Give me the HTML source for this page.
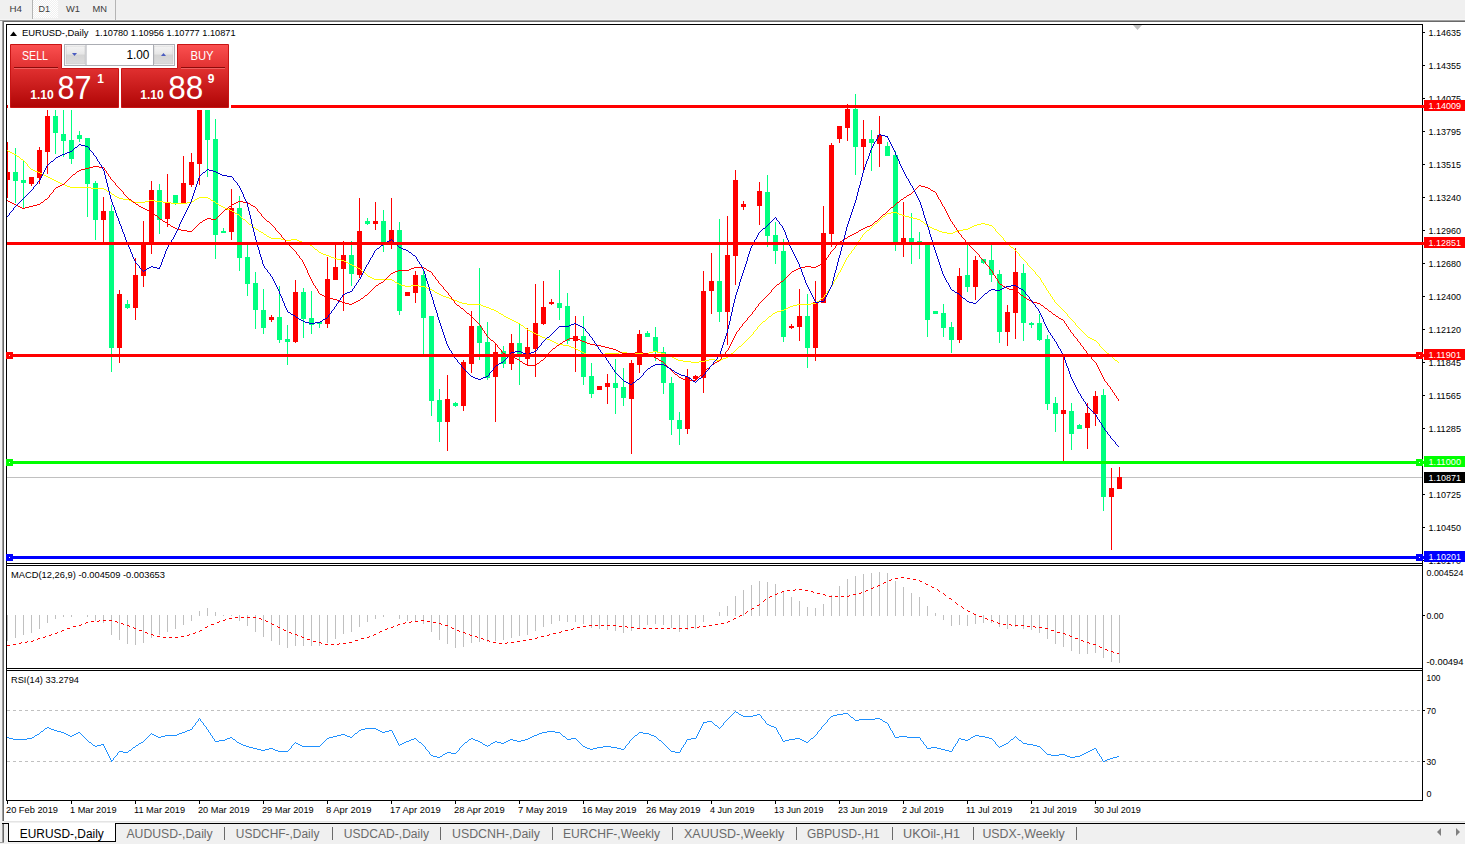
<!DOCTYPE html>
<html><head><meta charset="utf-8"><title>EURUSD-,Daily</title>
<style>html,body{margin:0;padding:0;background:#f0f0f0;}body{width:1465px;height:844px;overflow:hidden;font-family:'Liberation Sans', Arial, sans-serif;}svg{display:block}</style>
</head><body><svg width="1465" height="844" viewBox="0 0 1465 844" font-family="'Liberation Sans', Arial, sans-serif"><rect x="0" y="0" width="1465" height="844" fill="#f0f0f0"/>
<rect x="4" y="22" width="1461" height="801" fill="#ffffff"/>
<rect x="0" y="19" width="1465" height="1" fill="#f5f5f5"/>
<rect x="0" y="20" width="1465" height="1" fill="#a0a0a0"/>
<rect x="2" y="21" width="1463" height="1" fill="#696969"/>
<rect x="0" y="21" width="2" height="800" fill="#f4f4f4"/>
<rect x="2" y="21" width="1" height="800" fill="#a0a0a0"/>
<rect x="3" y="22" width="1" height="799" fill="#696969"/>
<defs><pattern id="chk" width="2" height="2" patternUnits="userSpaceOnUse"><rect width="2" height="2" fill="#f0f0f0"/><rect width="1" height="1" fill="#fff"/><rect x="1" y="1" width="1" height="1" fill="#fff"/></pattern></defs>
<rect x="33" y="0" width="25" height="18" fill="url(#chk)" shape-rendering="crispEdges"/>
<rect x="32" y="0" width="1" height="19" fill="#b4b4b4"/>
<rect x="115" y="0" width="1" height="20" fill="#b4b4b4"/>
<text x="9.5" y="12" font-size="9.8" fill="#3c3c3c" textLength="12.5" lengthAdjust="spacingAndGlyphs">H4</text>
<text x="38.5" y="12" font-size="9.8" fill="#3c3c3c" textLength="11.5" lengthAdjust="spacingAndGlyphs">D1</text>
<text x="66" y="12" font-size="9.8" fill="#3c3c3c" textLength="14" lengthAdjust="spacingAndGlyphs">W1</text>
<text x="92.5" y="12" font-size="9.8" fill="#3c3c3c" textLength="14.5" lengthAdjust="spacingAndGlyphs">MN</text>
<rect x="6" y="24" width="1" height="777" fill="#000"/>
<rect x="1422" y="24" width="1" height="777" fill="#000"/>
<rect x="6" y="24" width="1417" height="1" fill="#000"/>
<rect x="6" y="563" width="1417" height="1" fill="#000"/>
<rect x="6" y="565" width="1417" height="1" fill="#000"/>
<rect x="6" y="668" width="1417" height="1" fill="#000"/>
<rect x="6" y="670" width="1417" height="1" fill="#000"/>
<rect x="6" y="800" width="1417" height="1" fill="#000"/>
<polygon points="1133,25 1142,25 1137.5,30" fill="#c0c0c0"/>
<defs><clipPath id="cm"><rect x="7" y="25" width="1415" height="538"/></clipPath></defs>
<g clip-path="url(#cm)" shape-rendering="crispEdges">
<rect x="7" y="477" width="1415" height="1" fill="#c0c0c0"/>
<rect x="7" y="142" width="1" height="56" fill="#ff0000"/>
<rect x="5" y="172" width="5" height="8" fill="#ff0000"/>
<rect x="15" y="148" width="1" height="55" fill="#00ff80"/>
<rect x="13" y="172" width="5" height="9" fill="#00ff80"/>
<rect x="23" y="161" width="1" height="47" fill="#00ff80"/>
<rect x="21" y="180" width="5" height="3" fill="#00ff80"/>
<rect x="31" y="177" width="1" height="9" fill="#ff0000"/>
<rect x="29" y="177" width="5" height="7" fill="#ff0000"/>
<rect x="39" y="147" width="1" height="37" fill="#ff0000"/>
<rect x="37" y="150" width="5" height="28" fill="#ff0000"/>
<rect x="47" y="100" width="1" height="74" fill="#ff0000"/>
<rect x="45" y="116" width="5" height="36" fill="#ff0000"/>
<rect x="55" y="100" width="1" height="54" fill="#00ff80"/>
<rect x="53" y="116" width="5" height="17" fill="#00ff80"/>
<rect x="63" y="100" width="1" height="57" fill="#00ff80"/>
<rect x="61" y="134" width="5" height="7" fill="#00ff80"/>
<rect x="71" y="100" width="1" height="64" fill="#00ff80"/>
<rect x="69" y="140" width="5" height="19" fill="#00ff80"/>
<rect x="79" y="131" width="1" height="11" fill="#00ff80"/>
<rect x="77" y="135" width="5" height="4" fill="#00ff80"/>
<rect x="87" y="138" width="1" height="79" fill="#00ff80"/>
<rect x="85" y="138" width="5" height="46" fill="#00ff80"/>
<rect x="95" y="181" width="1" height="59" fill="#00ff80"/>
<rect x="93" y="183" width="5" height="37" fill="#00ff80"/>
<rect x="103" y="197" width="1" height="46" fill="#ff0000"/>
<rect x="101" y="211" width="5" height="9" fill="#ff0000"/>
<rect x="111" y="205" width="1" height="167" fill="#00ff80"/>
<rect x="109" y="211" width="5" height="137" fill="#00ff80"/>
<rect x="119" y="290" width="1" height="73" fill="#ff0000"/>
<rect x="117" y="294" width="5" height="54" fill="#ff0000"/>
<rect x="127" y="300" width="1" height="9" fill="#00ff80"/>
<rect x="125" y="304" width="5" height="4" fill="#00ff80"/>
<rect x="135" y="258" width="1" height="62" fill="#ff0000"/>
<rect x="133" y="275" width="5" height="33" fill="#ff0000"/>
<rect x="143" y="221" width="1" height="66" fill="#ff0000"/>
<rect x="141" y="242" width="5" height="34" fill="#ff0000"/>
<rect x="151" y="181" width="1" height="73" fill="#ff0000"/>
<rect x="149" y="190" width="5" height="53" fill="#ff0000"/>
<rect x="159" y="184" width="1" height="50" fill="#00ff80"/>
<rect x="157" y="190" width="5" height="30" fill="#00ff80"/>
<rect x="167" y="174" width="1" height="53" fill="#ff0000"/>
<rect x="165" y="203" width="5" height="16" fill="#ff0000"/>
<rect x="175" y="195" width="1" height="10" fill="#00ff80"/>
<rect x="173" y="195" width="5" height="9" fill="#00ff80"/>
<rect x="183" y="156" width="1" height="48" fill="#ff0000"/>
<rect x="181" y="183" width="5" height="21" fill="#ff0000"/>
<rect x="191" y="153" width="1" height="34" fill="#ff0000"/>
<rect x="189" y="162" width="5" height="23" fill="#ff0000"/>
<rect x="199" y="60" width="1" height="125" fill="#ff0000"/>
<rect x="197" y="72" width="5" height="92" fill="#ff0000"/>
<rect x="207" y="60" width="1" height="117" fill="#00ff80"/>
<rect x="205" y="72" width="5" height="68" fill="#00ff80"/>
<rect x="215" y="119" width="1" height="140" fill="#00ff80"/>
<rect x="213" y="139" width="5" height="96" fill="#00ff80"/>
<rect x="223" y="228" width="1" height="5" fill="#00ff80"/>
<rect x="221" y="231" width="5" height="2" fill="#00ff80"/>
<rect x="231" y="189" width="1" height="51" fill="#ff0000"/>
<rect x="229" y="208" width="5" height="24" fill="#ff0000"/>
<rect x="239" y="196" width="1" height="75" fill="#00ff80"/>
<rect x="237" y="208" width="5" height="50" fill="#00ff80"/>
<rect x="247" y="245" width="1" height="51" fill="#00ff80"/>
<rect x="245" y="257" width="5" height="27" fill="#00ff80"/>
<rect x="255" y="272" width="1" height="57" fill="#00ff80"/>
<rect x="253" y="283" width="5" height="27" fill="#00ff80"/>
<rect x="263" y="289" width="1" height="45" fill="#00ff80"/>
<rect x="261" y="310" width="5" height="18" fill="#00ff80"/>
<rect x="271" y="315" width="1" height="7" fill="#ff0000"/>
<rect x="269" y="317" width="5" height="3" fill="#ff0000"/>
<rect x="279" y="286" width="1" height="57" fill="#00ff80"/>
<rect x="277" y="317" width="5" height="23" fill="#00ff80"/>
<rect x="287" y="325" width="1" height="40" fill="#00ff80"/>
<rect x="285" y="339" width="5" height="3" fill="#00ff80"/>
<rect x="295" y="280" width="1" height="63" fill="#ff0000"/>
<rect x="293" y="292" width="5" height="50" fill="#ff0000"/>
<rect x="303" y="288" width="1" height="50" fill="#00ff80"/>
<rect x="301" y="292" width="5" height="27" fill="#00ff80"/>
<rect x="311" y="291" width="1" height="43" fill="#00ff80"/>
<rect x="309" y="318" width="5" height="7" fill="#00ff80"/>
<rect x="319" y="322" width="1" height="6" fill="#00ff80"/>
<rect x="317" y="322" width="5" height="2" fill="#00ff80"/>
<rect x="327" y="257" width="1" height="71" fill="#ff0000"/>
<rect x="325" y="279" width="5" height="45" fill="#ff0000"/>
<rect x="335" y="245" width="1" height="35" fill="#ff0000"/>
<rect x="333" y="267" width="5" height="13" fill="#ff0000"/>
<rect x="343" y="241" width="1" height="70" fill="#ff0000"/>
<rect x="341" y="255" width="5" height="14" fill="#ff0000"/>
<rect x="351" y="241" width="1" height="45" fill="#00ff80"/>
<rect x="349" y="255" width="5" height="19" fill="#00ff80"/>
<rect x="359" y="198" width="1" height="80" fill="#ff0000"/>
<rect x="357" y="231" width="5" height="44" fill="#ff0000"/>
<rect x="367" y="218" width="1" height="7" fill="#00ff80"/>
<rect x="365" y="221" width="5" height="3" fill="#00ff80"/>
<rect x="375" y="202" width="1" height="28" fill="#ff0000"/>
<rect x="373" y="221" width="5" height="3" fill="#ff0000"/>
<rect x="383" y="210" width="1" height="42" fill="#00ff80"/>
<rect x="381" y="221" width="5" height="21" fill="#00ff80"/>
<rect x="391" y="198" width="1" height="51" fill="#ff0000"/>
<rect x="389" y="230" width="5" height="12" fill="#ff0000"/>
<rect x="399" y="222" width="1" height="93" fill="#00ff80"/>
<rect x="397" y="230" width="5" height="81" fill="#00ff80"/>
<rect x="407" y="292" width="1" height="4" fill="#ff0000"/>
<rect x="405" y="292" width="5" height="4" fill="#ff0000"/>
<rect x="415" y="271" width="1" height="32" fill="#ff0000"/>
<rect x="413" y="275" width="5" height="18" fill="#ff0000"/>
<rect x="423" y="271" width="1" height="83" fill="#00ff80"/>
<rect x="421" y="275" width="5" height="43" fill="#00ff80"/>
<rect x="431" y="316" width="1" height="100" fill="#00ff80"/>
<rect x="429" y="316" width="5" height="85" fill="#00ff80"/>
<rect x="439" y="389" width="1" height="53" fill="#00ff80"/>
<rect x="437" y="400" width="5" height="22" fill="#00ff80"/>
<rect x="447" y="375" width="1" height="76" fill="#ff0000"/>
<rect x="445" y="399" width="5" height="23" fill="#ff0000"/>
<rect x="455" y="402" width="1" height="5" fill="#00ff80"/>
<rect x="453" y="403" width="5" height="3" fill="#00ff80"/>
<rect x="463" y="360" width="1" height="51" fill="#ff0000"/>
<rect x="461" y="362" width="5" height="44" fill="#ff0000"/>
<rect x="471" y="311" width="1" height="62" fill="#ff0000"/>
<rect x="469" y="326" width="5" height="38" fill="#ff0000"/>
<rect x="479" y="268" width="1" height="92" fill="#00ff80"/>
<rect x="477" y="326" width="5" height="17" fill="#00ff80"/>
<rect x="487" y="322" width="1" height="58" fill="#00ff80"/>
<rect x="485" y="342" width="5" height="36" fill="#00ff80"/>
<rect x="495" y="344" width="1" height="78" fill="#ff0000"/>
<rect x="493" y="352" width="5" height="25" fill="#ff0000"/>
<rect x="503" y="346" width="1" height="22" fill="#00ff80"/>
<rect x="501" y="351" width="5" height="13" fill="#00ff80"/>
<rect x="511" y="334" width="1" height="36" fill="#ff0000"/>
<rect x="509" y="343" width="5" height="21" fill="#ff0000"/>
<rect x="519" y="324" width="1" height="61" fill="#00ff80"/>
<rect x="517" y="343" width="5" height="12" fill="#00ff80"/>
<rect x="527" y="328" width="1" height="37" fill="#ff0000"/>
<rect x="525" y="347" width="5" height="12" fill="#ff0000"/>
<rect x="535" y="284" width="1" height="93" fill="#ff0000"/>
<rect x="533" y="323" width="5" height="26" fill="#ff0000"/>
<rect x="543" y="281" width="1" height="44" fill="#ff0000"/>
<rect x="541" y="307" width="5" height="17" fill="#ff0000"/>
<rect x="551" y="299" width="1" height="6" fill="#ff0000"/>
<rect x="549" y="302" width="5" height="2" fill="#ff0000"/>
<rect x="559" y="270" width="1" height="50" fill="#00ff80"/>
<rect x="557" y="303" width="5" height="5" fill="#00ff80"/>
<rect x="567" y="293" width="1" height="51" fill="#00ff80"/>
<rect x="565" y="306" width="5" height="35" fill="#00ff80"/>
<rect x="575" y="316" width="1" height="56" fill="#ff0000"/>
<rect x="573" y="336" width="5" height="5" fill="#ff0000"/>
<rect x="583" y="316" width="1" height="69" fill="#00ff80"/>
<rect x="581" y="336" width="5" height="41" fill="#00ff80"/>
<rect x="591" y="363" width="1" height="35" fill="#00ff80"/>
<rect x="589" y="376" width="5" height="18" fill="#00ff80"/>
<rect x="599" y="386" width="1" height="4" fill="#ff0000"/>
<rect x="597" y="386" width="5" height="4" fill="#ff0000"/>
<rect x="607" y="374" width="1" height="30" fill="#ff0000"/>
<rect x="605" y="383" width="5" height="4" fill="#ff0000"/>
<rect x="615" y="359" width="1" height="55" fill="#00ff80"/>
<rect x="613" y="383" width="5" height="5" fill="#00ff80"/>
<rect x="623" y="368" width="1" height="38" fill="#00ff80"/>
<rect x="621" y="387" width="5" height="11" fill="#00ff80"/>
<rect x="631" y="360" width="1" height="94" fill="#ff0000"/>
<rect x="629" y="363" width="5" height="36" fill="#ff0000"/>
<rect x="639" y="330" width="1" height="43" fill="#ff0000"/>
<rect x="637" y="334" width="5" height="31" fill="#ff0000"/>
<rect x="647" y="331" width="1" height="6" fill="#00ff80"/>
<rect x="645" y="333" width="5" height="4" fill="#00ff80"/>
<rect x="655" y="327" width="1" height="34" fill="#00ff80"/>
<rect x="653" y="337" width="5" height="15" fill="#00ff80"/>
<rect x="663" y="347" width="1" height="47" fill="#00ff80"/>
<rect x="661" y="352" width="5" height="31" fill="#00ff80"/>
<rect x="671" y="377" width="1" height="58" fill="#00ff80"/>
<rect x="669" y="383" width="5" height="37" fill="#00ff80"/>
<rect x="679" y="412" width="1" height="33" fill="#00ff80"/>
<rect x="677" y="420" width="5" height="9" fill="#00ff80"/>
<rect x="687" y="369" width="1" height="65" fill="#ff0000"/>
<rect x="685" y="377" width="5" height="52" fill="#ff0000"/>
<rect x="695" y="375" width="1" height="5" fill="#ff0000"/>
<rect x="693" y="376" width="5" height="3" fill="#ff0000"/>
<rect x="703" y="271" width="1" height="122" fill="#ff0000"/>
<rect x="701" y="291" width="5" height="87" fill="#ff0000"/>
<rect x="711" y="253" width="1" height="61" fill="#ff0000"/>
<rect x="709" y="281" width="5" height="10" fill="#ff0000"/>
<rect x="719" y="219" width="1" height="103" fill="#00ff80"/>
<rect x="717" y="281" width="5" height="31" fill="#00ff80"/>
<rect x="727" y="216" width="1" height="129" fill="#ff0000"/>
<rect x="725" y="255" width="5" height="57" fill="#ff0000"/>
<rect x="735" y="170" width="1" height="115" fill="#ff0000"/>
<rect x="733" y="180" width="5" height="76" fill="#ff0000"/>
<rect x="743" y="201" width="1" height="9" fill="#ff0000"/>
<rect x="741" y="204" width="5" height="3" fill="#ff0000"/>
<rect x="759" y="182" width="1" height="43" fill="#ff0000"/>
<rect x="757" y="191" width="5" height="15" fill="#ff0000"/>
<rect x="767" y="175" width="1" height="72" fill="#00ff80"/>
<rect x="765" y="192" width="5" height="44" fill="#00ff80"/>
<rect x="775" y="222" width="1" height="42" fill="#00ff80"/>
<rect x="773" y="235" width="5" height="16" fill="#00ff80"/>
<rect x="783" y="239" width="1" height="103" fill="#00ff80"/>
<rect x="781" y="251" width="5" height="86" fill="#00ff80"/>
<rect x="791" y="324" width="1" height="5" fill="#ff0000"/>
<rect x="789" y="326" width="5" height="2" fill="#ff0000"/>
<rect x="799" y="289" width="1" height="52" fill="#ff0000"/>
<rect x="797" y="316" width="5" height="11" fill="#ff0000"/>
<rect x="807" y="294" width="1" height="74" fill="#00ff80"/>
<rect x="805" y="316" width="5" height="32" fill="#00ff80"/>
<rect x="815" y="281" width="1" height="80" fill="#ff0000"/>
<rect x="813" y="302" width="5" height="46" fill="#ff0000"/>
<rect x="823" y="206" width="1" height="97" fill="#ff0000"/>
<rect x="821" y="233" width="5" height="70" fill="#ff0000"/>
<rect x="831" y="143" width="1" height="104" fill="#ff0000"/>
<rect x="829" y="145" width="5" height="89" fill="#ff0000"/>
<rect x="839" y="126" width="1" height="17" fill="#ff0000"/>
<rect x="837" y="126" width="5" height="13" fill="#ff0000"/>
<rect x="847" y="104" width="1" height="37" fill="#ff0000"/>
<rect x="845" y="109" width="5" height="19" fill="#ff0000"/>
<rect x="855" y="94" width="1" height="81" fill="#00ff80"/>
<rect x="853" y="109" width="5" height="38" fill="#00ff80"/>
<rect x="863" y="120" width="1" height="50" fill="#ff0000"/>
<rect x="861" y="139" width="5" height="8" fill="#ff0000"/>
<rect x="871" y="130" width="1" height="41" fill="#00ff80"/>
<rect x="869" y="139" width="5" height="4" fill="#00ff80"/>
<rect x="879" y="116" width="1" height="51" fill="#ff0000"/>
<rect x="877" y="135" width="5" height="9" fill="#ff0000"/>
<rect x="887" y="142" width="1" height="14" fill="#00ff80"/>
<rect x="885" y="146" width="5" height="10" fill="#00ff80"/>
<rect x="895" y="151" width="1" height="100" fill="#00ff80"/>
<rect x="893" y="155" width="5" height="88" fill="#00ff80"/>
<rect x="903" y="202" width="1" height="55" fill="#ff0000"/>
<rect x="901" y="238" width="5" height="5" fill="#ff0000"/>
<rect x="911" y="213" width="1" height="51" fill="#00ff80"/>
<rect x="909" y="238" width="5" height="5" fill="#00ff80"/>
<rect x="919" y="232" width="1" height="27" fill="#00ff80"/>
<rect x="917" y="241" width="5" height="3" fill="#00ff80"/>
<rect x="927" y="243" width="1" height="94" fill="#00ff80"/>
<rect x="925" y="243" width="5" height="77" fill="#00ff80"/>
<rect x="935" y="311" width="1" height="3" fill="#00ff80"/>
<rect x="933" y="311" width="5" height="3" fill="#00ff80"/>
<rect x="943" y="304" width="1" height="33" fill="#00ff80"/>
<rect x="941" y="313" width="5" height="15" fill="#00ff80"/>
<rect x="951" y="322" width="1" height="31" fill="#00ff80"/>
<rect x="949" y="327" width="5" height="13" fill="#00ff80"/>
<rect x="959" y="268" width="1" height="75" fill="#ff0000"/>
<rect x="957" y="276" width="5" height="64" fill="#ff0000"/>
<rect x="967" y="245" width="1" height="47" fill="#00ff80"/>
<rect x="965" y="275" width="5" height="12" fill="#00ff80"/>
<rect x="975" y="256" width="1" height="44" fill="#ff0000"/>
<rect x="973" y="260" width="5" height="27" fill="#ff0000"/>
<rect x="983" y="259" width="1" height="5" fill="#00ff80"/>
<rect x="981" y="259" width="5" height="4" fill="#00ff80"/>
<rect x="991" y="245" width="1" height="37" fill="#00ff80"/>
<rect x="989" y="260" width="5" height="15" fill="#00ff80"/>
<rect x="999" y="270" width="1" height="73" fill="#00ff80"/>
<rect x="997" y="274" width="5" height="58" fill="#00ff80"/>
<rect x="1007" y="305" width="1" height="41" fill="#ff0000"/>
<rect x="1005" y="312" width="5" height="20" fill="#ff0000"/>
<rect x="1015" y="248" width="1" height="91" fill="#ff0000"/>
<rect x="1013" y="272" width="5" height="41" fill="#ff0000"/>
<rect x="1023" y="264" width="1" height="77" fill="#00ff80"/>
<rect x="1021" y="273" width="5" height="50" fill="#00ff80"/>
<rect x="1031" y="322" width="1" height="6" fill="#00ff80"/>
<rect x="1029" y="323" width="5" height="2" fill="#00ff80"/>
<rect x="1039" y="314" width="1" height="27" fill="#00ff80"/>
<rect x="1037" y="323" width="5" height="17" fill="#00ff80"/>
<rect x="1047" y="335" width="1" height="75" fill="#00ff80"/>
<rect x="1045" y="339" width="5" height="65" fill="#00ff80"/>
<rect x="1055" y="397" width="1" height="35" fill="#00ff80"/>
<rect x="1053" y="403" width="5" height="11" fill="#00ff80"/>
<rect x="1063" y="357" width="1" height="104" fill="#ff0000"/>
<rect x="1061" y="410" width="5" height="4" fill="#ff0000"/>
<rect x="1071" y="403" width="1" height="47" fill="#00ff80"/>
<rect x="1069" y="411" width="5" height="23" fill="#00ff80"/>
<rect x="1079" y="424" width="1" height="5" fill="#00ff80"/>
<rect x="1077" y="425" width="5" height="4" fill="#00ff80"/>
<rect x="1087" y="403" width="1" height="46" fill="#ff0000"/>
<rect x="1085" y="413" width="5" height="15" fill="#ff0000"/>
<rect x="1095" y="391" width="1" height="35" fill="#ff0000"/>
<rect x="1093" y="396" width="5" height="18" fill="#ff0000"/>
<rect x="1103" y="389" width="1" height="122" fill="#00ff80"/>
<rect x="1101" y="395" width="5" height="102" fill="#00ff80"/>
<rect x="1111" y="468" width="1" height="82" fill="#ff0000"/>
<rect x="1109" y="488" width="5" height="9" fill="#ff0000"/>
<rect x="1119" y="467" width="1" height="22" fill="#ff0000"/>
<rect x="1117" y="477" width="5" height="12" fill="#ff0000"/>
</g>
<g clip-path="url(#cm)"><path d="M8,151.5h2M10,152.5h2M12,153.5h2M14,154.5h2M17,156.5h2M21,159.5h2M31,169.5h2M33,170.5h2M35,171.5h3M38,172.5h2M40,173.5h2M42,174.5h2M44,175.5h2M46,176.5h2M48,177.5h2M50,178.5h2M52,179.5h2M54,180.5h2M56,181.5h2M58,182.5h2M60,183.5h2M62,184.5h3M65,185.5h2M67,186.5h3M70,187.5h21M91,188.5h13M104,189.5h2M107,191.5h2M109,192.5h2M112,194.5h2M115,196.5h2M117,197.5h2M119,198.5h4M123,199.5h6M129,200.5h2M131,201.5h3M134,202.5h11M145,201.5h4M149,200.5h6M155,201.5h8M163,202.5h8M171,203.5h16M187,202.5h5M192,201.5h2M195,199.5h2M197,198.5h2M199,197.5h9M208,198.5h2M211,200.5h2M213,201.5h2M216,203.5h2M219,205.5h2M221,206.5h2M223,207.5h2M225,208.5h2M227,209.5h3M230,210.5h2M232,211.5h2M235,213.5h2M237,214.5h2M243,219.5h2M249,224.5h2M253,227.5h2M256,229.5h2M259,231.5h2M261,232.5h2M264,234.5h2M267,236.5h2M269,237.5h2M271,238.5h10M281,239.5h4M285,240.5h6M291,239.5h6M297,240.5h2M299,241.5h3M302,242.5h3M305,243.5h2M307,244.5h3M310,245.5h2M315,249.5h2M319,252.5h2M321,253.5h2M323,254.5h3M326,255.5h3M329,256.5h2M331,257.5h3M334,258.5h3M337,259.5h4M341,260.5h3M344,261.5h2M346,262.5h2M348,263.5h2M350,264.5h2M352,265.5h2M354,266.5h2M356,267.5h2M358,268.5h2M363,272.5h2M368,276.5h2M370,277.5h2M372,278.5h2M374,279.5h18M392,280.5h2M395,282.5h2M397,283.5h2M399,284.5h2M401,285.5h4M405,286.5h6M411,285.5h8M419,286.5h6M425,287.5h2M427,288.5h3M430,289.5h2M432,290.5h2M435,292.5h2M437,293.5h2M439,294.5h2M441,295.5h2M443,296.5h3M446,297.5h3M449,298.5h2M451,299.5h3M454,300.5h3M457,301.5h2M459,302.5h3M462,303.5h5M467,304.5h14M481,305.5h2M483,306.5h3M486,307.5h3M489,308.5h2M491,309.5h3M494,310.5h2M496,311.5h2M499,313.5h2M501,314.5h2M504,316.5h2M506,317.5h2M508,318.5h2M510,319.5h2M512,320.5h2M514,321.5h2M516,322.5h2M518,323.5h2M521,325.5h2M525,328.5h2M528,330.5h2M530,331.5h2M532,332.5h2M534,333.5h2M536,334.5h2M538,335.5h2M540,336.5h2M542,337.5h3M545,338.5h2M547,339.5h3M550,340.5h2M552,341.5h2M554,342.5h2M556,343.5h2M558,344.5h5M563,345.5h6M569,346.5h2M571,347.5h3M574,348.5h2M576,349.5h2M578,350.5h2M580,351.5h2M582,352.5h2M584,353.5h2M586,354.5h2M588,355.5h2M590,356.5h5M595,355.5h6M601,354.5h4M605,353.5h14M619,352.5h8M627,353.5h22M649,352.5h4M653,351.5h4M657,352.5h4M661,353.5h4M665,354.5h2M667,355.5h3M670,356.5h2M672,357.5h2M674,358.5h2M676,359.5h2M678,360.5h5M683,361.5h8M691,362.5h8M699,361.5h6M705,360.5h4M709,359.5h6M715,360.5h6M721,359.5h2M723,358.5h3M726,357.5h2M731,353.5h2M739,346.5h2M763,321.5h2M769,316.5h2M773,313.5h2M775,312.5h2M777,311.5h4M781,310.5h3M784,309.5h2M786,308.5h2M788,307.5h2M790,306.5h3M793,305.5h4M797,304.5h14M811,303.5h5M817,301.5h2M821,298.5h2M867,230.5h2M875,223.5h2M883,216.5h2M887,213.5h4M891,212.5h6M897,213.5h2M899,214.5h3M902,215.5h3M905,216.5h4M909,217.5h4M913,218.5h4M917,219.5h3M921,221.5h2M925,224.5h2M928,226.5h2M930,227.5h2M932,228.5h2M934,229.5h3M937,230.5h2M939,231.5h3M942,232.5h5M947,233.5h6M953,232.5h2M955,231.5h3M958,230.5h5M963,229.5h5M968,228.5h2M970,227.5h2M972,226.5h2M974,225.5h3M977,224.5h4M981,223.5h4M985,224.5h4M989,225.5h3M1011,247.5h2M1088,337.5h2M1090,338.5h2M1092,339.5h2M1094,340.5h2M1107,353.5h2M1115,360.5h2M7.5,150v1M16.5,155v1M19.5,157v1M20.5,158v1M23.5,160v1M24.5,161v1M25.5,162v1M26.5,163v1M27.5,164v2M28.5,166v1M29.5,167v1M30.5,168v1M106.5,190v1M111.5,193v1M114.5,195v1M194.5,200v1M210.5,199v1M215.5,202v1M218.5,204v1M234.5,212v1M239.5,215v1M240.5,216v1M241.5,217v1M242.5,218v1M245.5,220v1M246.5,221v1M247.5,222v1M248.5,223v1M251.5,225v1M252.5,226v1M255.5,228v1M258.5,230v1M263.5,233v1M266.5,235v1M312.5,246v1M313.5,247v1M314.5,248v1M317.5,250v1M318.5,251v1M360.5,269v1M361.5,270v1M362.5,271v1M365.5,273v1M366.5,274v1M367.5,275v1M394.5,281v1M434.5,291v1M498.5,312v1M503.5,315v1M520.5,324v1M523.5,326v1M524.5,327v1M527.5,329v1M728.5,356v1M729.5,355v1M730.5,354v1M733.5,352v1M734.5,351v1M735.5,350v1M736.5,349v1M737.5,348v1M738.5,347v1M741.5,345v1M742.5,344v1M743.5,343v1M744.5,342v1M745.5,341v1M746.5,340v1M747.5,339v1M748.5,338v1M749.5,337v1M750.5,336v1M751.5,335v1M752.5,334v1M753.5,332v2M754.5,331v1M755.5,330v1M756.5,329v1M757.5,327v2M758.5,326v1M759.5,325v1M760.5,324v1M761.5,323v1M762.5,322v1M765.5,320v1M766.5,319v1M767.5,318v1M768.5,317v1M771.5,315v1M772.5,314v1M816.5,302v1M819.5,300v1M820.5,299v1M823.5,297v1M824.5,295v2M825.5,294v1M826.5,293v1M827.5,291v2M828.5,290v1M829.5,289v1M830.5,287v2M831.5,286v1M832.5,284v2M833.5,282v2M834.5,280v2M835.5,279v1M836.5,277v2M837.5,275v2M838.5,273v2M839.5,272v1M840.5,270v2M841.5,268v2M842.5,266v2M843.5,264v2M844.5,262v2M845.5,260v2M846.5,258v2M847.5,257v1M848.5,255v2M849.5,254v1M850.5,253v1M851.5,251v2M852.5,250v1M853.5,249v1M854.5,247v2M855.5,246v1M856.5,244v2M857.5,243v1M858.5,241v2M859.5,240v1M860.5,238v2M861.5,237v1M862.5,235v2M863.5,234v1M864.5,233v1M865.5,232v1M866.5,231v1M869.5,229v1M870.5,228v1M871.5,227v1M872.5,226v1M873.5,225v1M874.5,224v1M877.5,222v1M878.5,221v1M879.5,220v1M880.5,219v1M881.5,218v1M882.5,217v1M885.5,215v1M886.5,214v1M920.5,220v1M923.5,222v1M924.5,223v1M927.5,225v1M992.5,226v1M993.5,227v1M994.5,228v1M995.5,229v2M996.5,231v1M997.5,232v1M998.5,233v1M999.5,234v1M1000.5,235v1M1001.5,236v1M1002.5,237v1M1003.5,238v2M1004.5,240v1M1005.5,241v1M1006.5,242v1M1007.5,243v1M1008.5,244v1M1009.5,245v1M1010.5,246v1M1013.5,248v1M1014.5,249v1M1015.5,250v1M1016.5,251v1M1017.5,252v1M1018.5,253v1M1019.5,254v2M1020.5,256v1M1021.5,257v1M1022.5,258v1M1023.5,259v1M1024.5,260v1M1025.5,261v1M1026.5,262v1M1027.5,263v2M1028.5,265v1M1029.5,266v1M1030.5,267v1M1031.5,268v1M1032.5,269v1M1033.5,270v1M1034.5,271v1M1035.5,272v2M1036.5,274v1M1037.5,275v1M1038.5,276v1M1039.5,277v1M1040.5,278v2M1041.5,280v2M1042.5,282v1M1043.5,283v2M1044.5,285v1M1045.5,286v2M1046.5,288v2M1047.5,290v1M1048.5,291v2M1049.5,293v1M1050.5,294v2M1051.5,296v1M1052.5,297v2M1053.5,299v1M1054.5,300v2M1055.5,302v1M1056.5,303v1M1057.5,304v1M1058.5,305v1M1059.5,306v1M1060.5,307v1M1061.5,308v1M1062.5,309v1M1063.5,310v1M1064.5,311v1M1065.5,312v1M1066.5,313v1M1067.5,314v2M1068.5,316v1M1069.5,317v1M1070.5,318v1M1071.5,319v1M1072.5,320v1M1073.5,321v1M1074.5,322v1M1075.5,323v2M1076.5,325v1M1077.5,326v1M1078.5,327v1M1079.5,328v1M1080.5,329v1M1081.5,330v1M1082.5,331v1M1083.5,332v1M1084.5,333v1M1085.5,334v1M1086.5,335v1M1087.5,336v1M1096.5,341v1M1097.5,342v1M1098.5,343v1M1099.5,344v2M1100.5,346v1M1101.5,347v1M1102.5,348v1M1103.5,349v1M1104.5,350v1M1105.5,351v1M1106.5,352v1M1109.5,354v1M1110.5,355v1M1111.5,356v1M1112.5,357v1M1113.5,358v1M1114.5,359v1M1117.5,361v1M1118.5,362v1" stroke="#ffff00" stroke-width="1" fill="none" shape-rendering="crispEdges"/><path d="M8,201.5h2M10,202.5h2M12,203.5h2M14,204.5h2M16,205.5h2M18,206.5h2M20,207.5h2M22,208.5h3M25,207.5h4M29,206.5h4M33,205.5h4M37,204.5h3M41,202.5h2M45,199.5h2M56,187.5h2M58,186.5h2M60,185.5h2M62,184.5h2M73,174.5h2M77,171.5h2M79,170.5h2M81,169.5h4M85,168.5h4M89,167.5h4M93,166.5h6M99,167.5h5M129,199.5h2M133,202.5h2M136,204.5h2M139,206.5h2M141,207.5h2M143,208.5h2M145,209.5h2M147,210.5h3M150,211.5h2M155,215.5h2M160,219.5h2M163,221.5h2M165,222.5h2M168,224.5h2M171,226.5h2M173,227.5h2M175,228.5h2M177,229.5h4M181,230.5h6M187,231.5h5M200,222.5h2M203,220.5h2M205,219.5h2M207,218.5h4M211,219.5h5M225,209.5h2M229,206.5h2M232,204.5h2M234,203.5h2M236,202.5h2M238,201.5h5M243,202.5h5M248,203.5h2M251,205.5h2M253,206.5h2M267,221.5h2M320,294.5h2M322,295.5h2M324,296.5h2M326,297.5h3M329,298.5h4M333,299.5h4M337,300.5h2M339,301.5h3M342,302.5h3M345,303.5h4M349,304.5h3M352,303.5h2M354,302.5h2M356,301.5h2M358,300.5h2M361,298.5h2M365,295.5h2M376,285.5h2M379,283.5h2M381,282.5h2M391,273.5h2M393,272.5h2M395,271.5h3M398,270.5h11M409,269.5h2M411,268.5h3M414,267.5h10M424,268.5h2M427,270.5h2M429,271.5h2M457,305.5h2M461,308.5h2M467,313.5h2M491,340.5h2M503,353.5h2M505,354.5h4M509,355.5h3M512,356.5h2M515,358.5h2M517,359.5h2M520,361.5h2M523,363.5h2M525,364.5h2M527,365.5h9M537,363.5h2M541,360.5h2M553,348.5h2M557,345.5h2M560,343.5h2M563,341.5h2M565,340.5h2M567,339.5h2M569,338.5h4M573,337.5h3M576,338.5h2M578,339.5h2M580,340.5h2M582,341.5h3M585,342.5h2M587,343.5h3M590,344.5h5M595,345.5h6M601,346.5h4M605,347.5h4M609,348.5h4M613,349.5h3M616,350.5h2M618,351.5h2M620,352.5h2M622,353.5h13M635,352.5h8M643,353.5h5M648,354.5h2M650,355.5h2M652,356.5h2M654,357.5h2M656,358.5h2M659,360.5h2M661,361.5h2M675,374.5h2M679,377.5h2M681,378.5h2M683,379.5h3M686,380.5h10M707,368.5h2M712,364.5h2M715,362.5h2M717,361.5h2M777,284.5h2M781,281.5h2M792,271.5h2M794,270.5h2M796,269.5h2M798,268.5h3M801,267.5h4M805,266.5h6M811,267.5h5M816,266.5h2M818,265.5h2M820,264.5h2M822,263.5h2M840,241.5h2M843,239.5h2M845,238.5h2M848,236.5h2M850,235.5h2M852,234.5h2M854,233.5h2M856,232.5h2M859,230.5h2M861,229.5h2M863,228.5h2M865,227.5h2M867,226.5h3M870,225.5h2M875,221.5h2M883,214.5h2M891,207.5h2M897,202.5h2M901,199.5h2M904,197.5h2M907,195.5h2M909,194.5h2M919,185.5h2M921,186.5h4M925,187.5h3M928,188.5h2M931,190.5h2M933,191.5h2M1000,284.5h2M1003,286.5h2M1005,287.5h2M1007,288.5h2M1009,289.5h4M1013,290.5h3M1017,292.5h2M1021,295.5h2M1024,297.5h2M1027,299.5h2M1029,300.5h2M1031,301.5h2M1033,302.5h4M1037,303.5h3M1041,305.5h2M1045,308.5h2M1049,311.5h2M1053,314.5h2M1056,316.5h2M1059,318.5h2M1061,319.5h2M7.5,200v1M40.5,203v1M43.5,201v1M44.5,200v1M47.5,198v1M48.5,197v1M49.5,195v2M50.5,194v1M51.5,193v1M52.5,192v1M53.5,190v2M54.5,189v1M55.5,188v1M64.5,183v1M65.5,182v1M66.5,181v1M67.5,180v1M68.5,179v1M69.5,178v1M70.5,177v1M71.5,176v1M72.5,175v1M75.5,173v1M76.5,172v1M104.5,168v2M105.5,170v1M106.5,171v2M107.5,173v1M108.5,174v2M109.5,176v1M110.5,177v2M111.5,179v1M112.5,180v1M113.5,181v1M114.5,182v1M115.5,183v2M116.5,185v1M117.5,186v1M118.5,187v1M119.5,188v1M120.5,189v1M121.5,190v1M122.5,191v1M123.5,192v2M124.5,194v1M125.5,195v1M126.5,196v1M127.5,197v1M128.5,198v1M131.5,200v1M132.5,201v1M135.5,203v1M138.5,205v1M152.5,212v1M153.5,213v1M154.5,214v1M157.5,216v1M158.5,217v1M159.5,218v1M162.5,220v1M167.5,223v1M170.5,225v1M192.5,230v1M193.5,229v1M194.5,228v1M195.5,227v1M196.5,226v1M197.5,225v1M198.5,224v1M199.5,223v1M202.5,221v1M216.5,218v1M217.5,217v1M218.5,216v1M219.5,215v1M220.5,214v1M221.5,213v1M222.5,212v1M223.5,211v1M224.5,210v1M227.5,208v1M228.5,207v1M231.5,205v1M250.5,204v1M255.5,207v1M256.5,208v1M257.5,209v2M258.5,211v1M259.5,212v1M260.5,213v1M261.5,214v2M262.5,216v1M263.5,217v1M264.5,218v1M265.5,219v1M266.5,220v1M269.5,222v1M270.5,223v1M271.5,224v1M272.5,225v1M273.5,226v1M274.5,227v1M275.5,228v2M276.5,230v1M277.5,231v1M278.5,232v1M279.5,233v1M280.5,234v1M281.5,235v2M282.5,237v1M283.5,238v1M284.5,239v1M285.5,240v2M286.5,242v1M287.5,243v1M288.5,244v1M289.5,245v1M290.5,246v1M291.5,247v1M292.5,248v1M293.5,249v1M294.5,250v1M295.5,251v1M296.5,252v2M297.5,254v1M298.5,255v1M299.5,256v2M300.5,258v1M301.5,259v1M302.5,260v2M303.5,262v2M304.5,264v2M305.5,266v2M306.5,268v2M307.5,270v3M308.5,273v2M309.5,275v2M310.5,277v2M311.5,279v2M312.5,281v2M313.5,283v2M314.5,285v1M315.5,286v2M316.5,288v1M317.5,289v2M318.5,291v2M319.5,293v1M360.5,299v1M363.5,297v1M364.5,296v1M367.5,294v1M368.5,293v1M369.5,292v1M370.5,291v1M371.5,290v1M372.5,289v1M373.5,288v1M374.5,287v1M375.5,286v1M378.5,284v1M383.5,281v1M384.5,280v1M385.5,279v1M386.5,278v1M387.5,277v1M388.5,276v1M389.5,275v1M390.5,274v1M426.5,269v1M431.5,272v1M432.5,273v2M433.5,275v1M434.5,276v1M435.5,277v2M436.5,279v1M437.5,280v1M438.5,281v2M439.5,283v1M440.5,284v1M441.5,285v1M442.5,286v1M443.5,287v2M444.5,289v1M445.5,290v1M446.5,291v1M447.5,292v1M448.5,293v2M449.5,295v1M450.5,296v1M451.5,297v2M452.5,299v1M453.5,300v1M454.5,301v2M455.5,303v1M456.5,304v1M459.5,306v1M460.5,307v1M463.5,309v1M464.5,310v1M465.5,311v1M466.5,312v1M469.5,314v1M470.5,315v1M471.5,316v1M472.5,317v1M473.5,318v1M474.5,319v1M475.5,320v1M476.5,321v1M477.5,322v1M478.5,323v1M479.5,324v1M480.5,325v2M481.5,327v1M482.5,328v2M483.5,330v1M484.5,331v2M485.5,333v1M486.5,334v2M487.5,336v1M488.5,337v1M489.5,338v1M490.5,339v1M493.5,341v1M494.5,342v1M495.5,343v1M496.5,344v1M497.5,345v2M498.5,347v1M499.5,348v1M500.5,349v1M501.5,350v2M502.5,352v1M514.5,357v1M519.5,360v1M522.5,362v1M536.5,364v1M539.5,362v1M540.5,361v1M543.5,359v1M544.5,358v1M545.5,357v1M546.5,356v1M547.5,354v2M548.5,353v1M549.5,352v1M550.5,351v1M551.5,350v1M552.5,349v1M555.5,347v1M556.5,346v1M559.5,344v1M562.5,342v1M658.5,359v1M663.5,362v1M664.5,363v1M665.5,364v1M666.5,365v1M667.5,366v1M668.5,367v1M669.5,368v1M670.5,369v1M671.5,370v1M672.5,371v1M673.5,372v1M674.5,373v1M677.5,375v1M678.5,376v1M696.5,379v1M697.5,378v1M698.5,377v1M699.5,376v1M700.5,375v1M701.5,374v1M702.5,373v1M703.5,372v1M704.5,371v1M705.5,370v1M706.5,369v1M709.5,367v1M710.5,366v1M711.5,365v1M714.5,363v1M719.5,360v1M720.5,359v1M721.5,357v2M722.5,356v1M723.5,355v1M724.5,354v1M725.5,352v2M726.5,351v1M727.5,350v1M728.5,348v2M729.5,346v2M730.5,344v2M731.5,342v2M732.5,340v2M733.5,338v2M734.5,336v2M735.5,334v2M736.5,332v2M737.5,331v1M738.5,330v1M739.5,328v2M740.5,327v1M741.5,326v1M742.5,324v2M743.5,323v1M744.5,322v1M745.5,321v1M746.5,320v1M747.5,318v2M748.5,317v1M749.5,316v1M750.5,315v1M751.5,314v1M752.5,312v2M753.5,311v1M754.5,310v1M755.5,308v2M756.5,307v1M757.5,306v1M758.5,304v2M759.5,303v1M760.5,302v1M761.5,301v1M762.5,300v1M763.5,299v1M764.5,298v1M765.5,297v1M766.5,296v1M767.5,295v1M768.5,294v1M769.5,293v1M770.5,292v1M771.5,290v2M772.5,289v1M773.5,288v1M774.5,287v1M775.5,286v1M776.5,285v1M779.5,283v1M780.5,282v1M783.5,280v1M784.5,279v1M785.5,278v1M786.5,277v1M787.5,276v1M788.5,275v1M789.5,274v1M790.5,273v1M791.5,272v1M824.5,261v2M825.5,260v1M826.5,258v2M827.5,257v1M828.5,255v2M829.5,254v1M830.5,252v2M831.5,251v1M832.5,250v1M833.5,249v1M834.5,248v1M835.5,246v2M836.5,245v1M837.5,244v1M838.5,243v1M839.5,242v1M842.5,240v1M847.5,237v1M858.5,231v1M872.5,224v1M873.5,223v1M874.5,222v1M877.5,220v1M878.5,219v1M879.5,218v1M880.5,217v1M881.5,216v1M882.5,215v1M885.5,213v1M886.5,212v1M887.5,211v1M888.5,210v1M889.5,209v1M890.5,208v1M893.5,206v1M894.5,205v1M895.5,204v1M896.5,203v1M899.5,201v1M900.5,200v1M903.5,198v1M906.5,196v1M911.5,193v1M912.5,192v1M913.5,191v1M914.5,190v1M915.5,189v1M916.5,188v1M917.5,187v1M918.5,186v1M930.5,189v1M935.5,192v1M936.5,193v2M937.5,195v2M938.5,197v2M939.5,199v1M940.5,200v2M941.5,202v2M942.5,204v2M943.5,206v1M944.5,207v2M945.5,209v2M946.5,211v2M947.5,213v2M948.5,215v2M949.5,217v2M950.5,219v2M951.5,221v1M952.5,222v2M953.5,224v1M954.5,225v2M955.5,227v1M956.5,228v2M957.5,230v1M958.5,231v2M959.5,233v1M960.5,234v1M961.5,235v2M962.5,237v1M963.5,238v1M964.5,239v1M965.5,240v2M966.5,242v1M967.5,243v1M968.5,244v1M969.5,245v1M970.5,246v1M971.5,247v1M972.5,248v1M973.5,249v1M974.5,250v1M975.5,251v1M976.5,252v1M977.5,253v1M978.5,254v1M979.5,255v2M980.5,257v1M981.5,258v1M982.5,259v1M983.5,260v1M984.5,261v1M985.5,262v2M986.5,264v1M987.5,265v1M988.5,266v1M989.5,267v2M990.5,269v1M991.5,270v1M992.5,271v2M993.5,273v2M994.5,275v1M995.5,276v2M996.5,278v1M997.5,279v2M998.5,281v2M999.5,283v1M1002.5,285v1M1016.5,291v1M1019.5,293v1M1020.5,294v1M1023.5,296v1M1026.5,298v1M1040.5,304v1M1043.5,306v1M1044.5,307v1M1047.5,309v1M1048.5,310v1M1051.5,312v1M1052.5,313v1M1055.5,315v1M1058.5,317v1M1063.5,320v1M1064.5,321v2M1065.5,323v1M1066.5,324v2M1067.5,326v1M1068.5,327v2M1069.5,329v1M1070.5,330v2M1071.5,332v1M1072.5,333v1M1073.5,334v2M1074.5,336v1M1075.5,337v1M1076.5,338v1M1077.5,339v2M1078.5,341v1M1079.5,342v1M1080.5,343v2M1081.5,345v1M1082.5,346v1M1083.5,347v2M1084.5,349v1M1085.5,350v1M1086.5,351v2M1087.5,353v1M1088.5,354v1M1089.5,355v1M1090.5,356v1M1091.5,357v2M1092.5,359v1M1093.5,360v1M1094.5,361v1M1095.5,362v1M1096.5,363v2M1097.5,365v2M1098.5,367v2M1099.5,369v2M1100.5,371v2M1101.5,373v2M1102.5,375v2M1103.5,377v2M1104.5,379v2M1105.5,381v1M1106.5,382v1M1107.5,383v2M1108.5,385v1M1109.5,386v1M1110.5,387v2M1111.5,389v1M1112.5,390v2M1113.5,392v1M1114.5,393v2M1115.5,395v1M1116.5,396v2M1117.5,398v1M1118.5,399v2" stroke="#ff0000" stroke-width="1" fill="none" shape-rendering="crispEdges"/><path d="M51,161.5h2M56,157.5h2M58,156.5h2M60,155.5h2M62,154.5h3M65,153.5h2M67,152.5h3M70,151.5h2M75,147.5h2M79,144.5h2M81,145.5h4M85,146.5h3M144,270.5h2M147,268.5h2M149,267.5h2M151,266.5h2M153,267.5h4M157,268.5h3M203,172.5h2M207,169.5h2M209,170.5h4M213,171.5h3M216,172.5h2M218,173.5h2M220,174.5h2M222,175.5h5M227,176.5h5M288,312.5h2M291,314.5h2M293,315.5h2M296,317.5h2M299,319.5h2M301,320.5h2M303,321.5h2M305,322.5h4M309,323.5h6M315,322.5h5M320,321.5h2M323,319.5h2M325,318.5h2M343,294.5h2M345,293.5h2M347,292.5h3M350,291.5h2M377,248.5h2M381,245.5h2M384,243.5h2M387,241.5h2M389,240.5h2M399,247.5h2M401,248.5h2M403,249.5h3M406,250.5h2M409,252.5h2M413,255.5h2M471,376.5h2M473,377.5h2M475,378.5h3M478,379.5h3M481,378.5h2M483,377.5h3M486,376.5h2M496,365.5h2M499,363.5h2M501,362.5h2M511,352.5h4M515,351.5h6M521,352.5h2M523,353.5h3M526,354.5h3M529,353.5h2M531,352.5h3M534,351.5h2M547,337.5h2M559,326.5h10M569,325.5h2M571,324.5h3M574,323.5h2M576,324.5h2M578,325.5h2M580,326.5h2M582,327.5h2M624,381.5h2M626,382.5h2M628,383.5h2M630,384.5h2M633,382.5h2M637,379.5h2M648,368.5h2M651,366.5h2M653,365.5h2M655,364.5h9M664,365.5h2M667,367.5h2M669,368.5h2M672,370.5h2M675,372.5h2M677,373.5h2M679,374.5h2M681,375.5h4M685,376.5h3M689,378.5h2M693,381.5h2M699,378.5h2M763,228.5h2M815,302.5h4M819,301.5h5M879,134.5h2M881,135.5h4M885,136.5h3M952,290.5h2M955,292.5h2M957,293.5h2M963,298.5h2M967,301.5h2M969,302.5h4M973,303.5h3M985,293.5h2M989,290.5h2M991,289.5h4M995,290.5h5M1000,289.5h2M1002,288.5h2M1004,287.5h2M1006,286.5h5M1011,285.5h5M1016,286.5h2M1019,288.5h2M1021,289.5h2M7.5,216v1M8.5,215v1M9.5,213v2M10.5,212v1M11.5,211v1M12.5,210v1M13.5,208v2M14.5,207v1M15.5,206v1M16.5,205v1M17.5,204v1M18.5,203v1M19.5,202v1M20.5,201v1M21.5,200v1M22.5,199v1M23.5,198v1M24.5,197v1M25.5,196v1M26.5,195v1M27.5,194v1M28.5,193v1M29.5,192v1M30.5,191v1M31.5,190v1M32.5,189v1M33.5,187v2M34.5,186v1M35.5,185v1M36.5,184v1M37.5,182v2M38.5,181v1M39.5,180v1M40.5,178v2M41.5,176v2M42.5,174v2M43.5,172v2M44.5,170v2M45.5,168v2M46.5,166v2M47.5,165v1M48.5,164v1M49.5,163v1M50.5,162v1M53.5,160v1M54.5,159v1M55.5,158v1M72.5,150v1M73.5,149v1M74.5,148v1M77.5,146v1M78.5,145v1M88.5,147v1M89.5,148v2M90.5,150v1M91.5,151v1M92.5,152v1M93.5,153v2M94.5,155v1M95.5,156v1M96.5,157v2M97.5,159v2M98.5,161v1M99.5,162v2M100.5,164v1M101.5,165v2M102.5,167v2M103.5,169v2M104.5,171v4M105.5,175v4M106.5,179v4M107.5,183v4M108.5,187v4M109.5,191v4M110.5,195v4M111.5,199v3M112.5,202v3M113.5,205v2M114.5,207v3M115.5,210v3M116.5,213v3M117.5,216v2M118.5,218v3M119.5,221v3M120.5,224v2M121.5,226v3M122.5,229v3M123.5,232v2M124.5,234v3M125.5,237v3M126.5,240v2M127.5,242v3M128.5,245v2M129.5,247v2M130.5,249v3M131.5,252v2M132.5,254v3M133.5,257v2M134.5,259v2M135.5,261v2M136.5,263v1M137.5,264v1M138.5,265v1M139.5,266v2M140.5,268v1M141.5,269v1M142.5,270v1M143.5,271v1M146.5,269v1M159.5,267v1M160.5,265v2M161.5,262v3M162.5,259v3M163.5,257v2M164.5,254v3M165.5,251v3M166.5,249v2M167.5,247v2M168.5,245v2M169.5,243v2M170.5,242v1M171.5,240v2M172.5,239v1M173.5,237v2M174.5,235v2M175.5,233v2M176.5,231v2M177.5,229v2M178.5,227v2M179.5,224v3M180.5,222v2M181.5,220v2M182.5,218v2M183.5,216v2M184.5,214v2M185.5,212v2M186.5,210v2M187.5,208v2M188.5,206v2M189.5,204v2M190.5,202v2M191.5,199v3M192.5,196v3M193.5,193v3M194.5,190v3M195.5,187v3M196.5,184v3M197.5,181v3M198.5,178v3M199.5,176v2M200.5,175v1M201.5,174v1M202.5,173v1M205.5,171v1M206.5,170v1M232.5,177v1M233.5,178v2M234.5,180v1M235.5,181v1M236.5,182v1M237.5,183v2M238.5,185v1M239.5,186v2M240.5,188v2M241.5,190v2M242.5,192v2M243.5,194v3M244.5,197v2M245.5,199v2M246.5,201v2M247.5,203v4M248.5,207v4M249.5,211v4M250.5,215v4M251.5,219v5M252.5,224v4M253.5,228v4M254.5,232v4M255.5,236v4M256.5,240v4M257.5,244v3M258.5,247v3M259.5,250v4M260.5,254v3M261.5,257v3M262.5,260v4M263.5,264v2M264.5,266v2M265.5,268v1M266.5,269v1M267.5,270v2M268.5,272v1M269.5,273v1M270.5,274v2M271.5,276v1M272.5,277v2M273.5,279v2M274.5,281v2M275.5,283v2M276.5,285v2M277.5,287v2M278.5,289v2M279.5,291v3M280.5,294v2M281.5,296v2M282.5,298v3M283.5,301v2M284.5,303v3M285.5,306v2M286.5,308v2M287.5,310v2M290.5,313v1M295.5,316v1M298.5,318v1M322.5,320v1M327.5,317v1M328.5,315v2M329.5,314v1M330.5,313v1M331.5,311v2M332.5,310v1M333.5,309v1M334.5,307v2M335.5,306v1M336.5,304v2M337.5,303v1M338.5,301v2M339.5,300v1M340.5,298v2M341.5,297v1M342.5,295v2M352.5,289v2M353.5,288v1M354.5,286v2M355.5,285v1M356.5,283v2M357.5,282v1M358.5,280v2M359.5,279v1M360.5,277v2M361.5,275v2M362.5,273v2M363.5,271v2M364.5,269v2M365.5,267v2M366.5,265v2M367.5,264v1M368.5,262v2M369.5,260v2M370.5,258v2M371.5,257v1M372.5,255v2M373.5,253v2M374.5,251v2M375.5,250v1M376.5,249v1M379.5,247v1M380.5,246v1M383.5,244v1M386.5,242v1M391.5,239v1M392.5,240v1M393.5,241v1M394.5,242v1M395.5,243v1M396.5,244v1M397.5,245v1M398.5,246v1M408.5,251v1M411.5,253v1M412.5,254v1M415.5,256v1M416.5,257v2M417.5,259v2M418.5,261v1M419.5,262v2M420.5,264v1M421.5,265v2M422.5,267v2M423.5,269v2M424.5,271v3M425.5,274v4M426.5,278v3M427.5,281v3M428.5,284v3M429.5,287v4M430.5,291v3M431.5,294v3M432.5,297v3M433.5,300v4M434.5,304v3M435.5,307v3M436.5,310v3M437.5,313v4M438.5,317v3M439.5,320v3M440.5,323v3M441.5,326v3M442.5,329v3M443.5,332v3M444.5,335v3M445.5,338v3M446.5,341v3M447.5,344v2M448.5,346v2M449.5,348v2M450.5,350v1M451.5,351v2M452.5,353v1M453.5,354v2M454.5,356v2M455.5,358v1M456.5,359v1M457.5,360v2M458.5,362v1M459.5,363v1M460.5,364v1M461.5,365v2M462.5,367v1M463.5,368v1M464.5,369v1M465.5,370v1M466.5,371v1M467.5,372v1M468.5,373v1M469.5,374v1M470.5,375v1M488.5,375v1M489.5,373v2M490.5,372v1M491.5,371v1M492.5,370v1M493.5,368v2M494.5,367v1M495.5,366v1M498.5,364v1M503.5,361v1M504.5,360v1M505.5,359v1M506.5,358v1M507.5,356v2M508.5,355v1M509.5,354v1M510.5,353v1M536.5,350v1M537.5,348v2M538.5,347v1M539.5,346v1M540.5,345v1M541.5,343v2M542.5,342v1M543.5,341v1M544.5,340v1M545.5,339v1M546.5,338v1M549.5,336v1M550.5,335v1M551.5,334v1M552.5,333v1M553.5,332v1M554.5,331v1M555.5,330v1M556.5,329v1M557.5,328v1M558.5,327v1M584.5,328v1M585.5,329v2M586.5,331v1M587.5,332v1M588.5,333v1M589.5,334v2M590.5,336v1M591.5,337v1M592.5,338v2M593.5,340v1M594.5,341v2M595.5,343v1M596.5,344v2M597.5,346v1M598.5,347v2M599.5,349v1M600.5,350v2M601.5,352v1M602.5,353v1M603.5,354v2M604.5,356v1M605.5,357v1M606.5,358v2M607.5,360v1M608.5,361v2M609.5,363v1M610.5,364v2M611.5,366v1M612.5,367v2M613.5,369v1M614.5,370v2M615.5,372v1M616.5,373v1M617.5,374v1M618.5,375v1M619.5,376v1M620.5,377v1M621.5,378v1M622.5,379v1M623.5,380v1M632.5,383v1M635.5,381v1M636.5,380v1M639.5,378v1M640.5,377v1M641.5,376v1M642.5,375v1M643.5,373v2M644.5,372v1M645.5,371v1M646.5,370v1M647.5,369v1M650.5,367v1M666.5,366v1M671.5,369v1M674.5,371v1M688.5,377v1M691.5,379v1M692.5,380v1M695.5,382v1M696.5,381v1M697.5,380v1M698.5,379v1M701.5,377v1M702.5,376v1M703.5,375v1M704.5,374v1M705.5,372v2M706.5,371v1M707.5,370v1M708.5,369v1M709.5,367v2M710.5,366v1M711.5,365v1M712.5,364v1M713.5,362v2M714.5,361v1M715.5,360v1M716.5,359v1M717.5,357v2M718.5,356v1M719.5,354v2M720.5,351v3M721.5,348v3M722.5,345v3M723.5,342v3M724.5,339v3M725.5,336v3M726.5,333v3M727.5,329v4M728.5,325v4M729.5,321v4M730.5,316v5M731.5,312v4M732.5,307v5M733.5,303v4M734.5,299v4M735.5,295v4M736.5,292v3M737.5,289v3M738.5,286v3M739.5,282v4M740.5,279v3M741.5,276v3M742.5,273v3M743.5,270v3M744.5,267v3M745.5,264v3M746.5,261v3M747.5,257v4M748.5,254v3M749.5,251v3M750.5,248v3M751.5,246v2M752.5,244v2M753.5,242v2M754.5,240v2M755.5,239v1M756.5,237v2M757.5,235v2M758.5,233v2M759.5,232v1M760.5,231v1M761.5,230v1M762.5,229v1M765.5,227v1M766.5,226v1M767.5,225v1M768.5,224v1M769.5,223v1M770.5,222v1M771.5,221v1M772.5,220v1M773.5,219v1M774.5,218v1M775.5,217v1M776.5,218v2M777.5,220v1M778.5,221v1M779.5,222v2M780.5,224v1M781.5,225v1M782.5,226v2M783.5,228v2M784.5,230v2M785.5,232v3M786.5,235v3M787.5,238v2M788.5,240v3M789.5,243v3M790.5,246v2M791.5,248v2M792.5,250v2M793.5,252v2M794.5,254v2M795.5,256v2M796.5,258v2M797.5,260v2M798.5,262v2M799.5,264v3M800.5,267v2M801.5,269v3M802.5,272v3M803.5,275v2M804.5,277v3M805.5,280v3M806.5,283v2M807.5,285v2M808.5,287v2M809.5,289v2M810.5,291v2M811.5,293v2M812.5,295v2M813.5,297v2M814.5,299v2M815.5,301v1M824.5,299v2M825.5,297v2M826.5,295v2M827.5,293v2M828.5,291v2M829.5,289v2M830.5,287v2M831.5,285v2M832.5,281v4M833.5,277v4M834.5,273v4M835.5,270v3M836.5,266v4M837.5,262v4M838.5,258v4M839.5,255v3M840.5,251v4M841.5,247v4M842.5,243v4M843.5,239v4M844.5,235v4M845.5,231v4M846.5,227v4M847.5,224v3M848.5,221v3M849.5,218v3M850.5,215v3M851.5,212v3M852.5,209v3M853.5,206v3M854.5,203v3M855.5,200v3M856.5,196v4M857.5,192v4M858.5,188v4M859.5,185v3M860.5,181v4M861.5,177v4M862.5,173v4M863.5,170v3M864.5,167v3M865.5,164v3M866.5,161v3M867.5,159v2M868.5,156v3M869.5,153v3M870.5,150v3M871.5,148v2M872.5,146v2M873.5,144v2M874.5,142v2M875.5,141v1M876.5,139v2M877.5,137v2M878.5,135v2M887.5,137v1M888.5,138v2M889.5,140v2M890.5,142v2M891.5,144v2M892.5,146v2M893.5,148v2M894.5,150v2M895.5,152v3M896.5,155v2M897.5,157v2M898.5,159v2M899.5,161v3M900.5,164v2M901.5,166v2M902.5,168v2M903.5,170v2M904.5,172v2M905.5,174v2M906.5,176v2M907.5,178v1M908.5,179v2M909.5,181v2M910.5,183v2M911.5,185v1M912.5,186v2M913.5,188v2M914.5,190v2M915.5,192v2M916.5,194v2M917.5,196v2M918.5,198v2M919.5,200v2M920.5,202v3M921.5,205v3M922.5,208v3M923.5,211v4M924.5,215v3M925.5,218v3M926.5,221v3M927.5,224v3M928.5,227v3M929.5,230v4M930.5,234v3M931.5,237v3M932.5,240v3M933.5,243v4M934.5,247v3M935.5,250v3M936.5,253v3M937.5,256v3M938.5,259v3M939.5,262v3M940.5,265v3M941.5,268v3M942.5,271v3M943.5,274v2M944.5,276v2M945.5,278v2M946.5,280v2M947.5,282v1M948.5,283v2M949.5,285v2M950.5,287v2M951.5,289v1M954.5,291v1M959.5,294v1M960.5,295v1M961.5,296v1M962.5,297v1M965.5,299v1M966.5,300v1M976.5,302v1M977.5,301v1M978.5,300v1M979.5,299v1M980.5,298v1M981.5,297v1M982.5,296v1M983.5,295v1M984.5,294v1M987.5,292v1M988.5,291v1M1018.5,287v1M1023.5,290v1M1024.5,291v1M1025.5,292v2M1026.5,294v1M1027.5,295v1M1028.5,296v1M1029.5,297v2M1030.5,299v1M1031.5,300v1M1032.5,301v2M1033.5,303v1M1034.5,304v1M1035.5,305v2M1036.5,307v1M1037.5,308v1M1038.5,309v2M1039.5,311v2M1040.5,313v2M1041.5,315v2M1042.5,317v2M1043.5,319v3M1044.5,322v2M1045.5,324v2M1046.5,326v2M1047.5,328v2M1048.5,330v2M1049.5,332v1M1050.5,333v2M1051.5,335v1M1052.5,336v2M1053.5,338v1M1054.5,339v2M1055.5,341v1M1056.5,342v2M1057.5,344v2M1058.5,346v2M1059.5,348v1M1060.5,349v2M1061.5,351v2M1062.5,353v2M1063.5,355v2M1064.5,357v3M1065.5,360v3M1066.5,363v3M1067.5,366v2M1068.5,368v3M1069.5,371v3M1070.5,374v3M1071.5,377v2M1072.5,379v2M1073.5,381v2M1074.5,383v2M1075.5,385v2M1076.5,387v2M1077.5,389v2M1078.5,391v2M1079.5,393v1M1080.5,394v2M1081.5,396v2M1082.5,398v1M1083.5,399v2M1084.5,401v1M1085.5,402v2M1086.5,404v2M1087.5,406v1M1088.5,407v1M1089.5,408v1M1090.5,409v1M1091.5,410v1M1092.5,411v1M1093.5,412v1M1094.5,413v1M1095.5,414v1M1096.5,415v2M1097.5,417v2M1098.5,419v1M1099.5,420v2M1100.5,422v1M1101.5,423v2M1102.5,425v2M1103.5,427v1M1104.5,428v2M1105.5,430v1M1106.5,431v1M1107.5,432v2M1108.5,434v1M1109.5,435v1M1110.5,436v2M1111.5,438v1M1112.5,439v1M1113.5,440v1M1114.5,441v1M1115.5,442v2M1116.5,444v1M1117.5,445v1M1118.5,446v1" stroke="#0000cc" stroke-width="1" fill="none" shape-rendering="crispEdges"/></g>
<rect x="7" y="105" width="1417" height="3" fill="#ff0000" shape-rendering="crispEdges"/>
<rect x="7" y="242" width="1417" height="3" fill="#ff0000" shape-rendering="crispEdges"/>
<rect x="7" y="354" width="1417" height="3" fill="#ff0000" shape-rendering="crispEdges"/>
<rect x="7" y="461" width="1417" height="3" fill="#00ff00" shape-rendering="crispEdges"/>
<rect x="7" y="556" width="1417" height="3" fill="#0000ff" shape-rendering="crispEdges"/>
<rect x="6" y="352" width="7" height="7" fill="#ff0000"/>
<rect x="9" y="355" width="1" height="1" fill="#fff"/>
<rect x="1416" y="352" width="7" height="7" fill="#ff0000"/>
<rect x="1419" y="355" width="1" height="1" fill="#fff"/>
<rect x="6" y="459" width="7" height="7" fill="#00ff00"/>
<rect x="9" y="462" width="1" height="1" fill="#fff"/>
<rect x="1416" y="459" width="7" height="7" fill="#00ff00"/>
<rect x="1419" y="462" width="1" height="1" fill="#fff"/>
<rect x="6" y="554" width="7" height="7" fill="#0000ff"/>
<rect x="9" y="557" width="1" height="1" fill="#fff"/>
<rect x="1416" y="554" width="7" height="7" fill="#0000ff"/>
<rect x="1419" y="557" width="1" height="1" fill="#fff"/>
<g shape-rendering="crispEdges">
<rect x="7" y="615" width="1" height="26" fill="#c0c0c0"/>
<rect x="15" y="615" width="1" height="23" fill="#c0c0c0"/>
<rect x="23" y="615" width="1" height="20" fill="#c0c0c0"/>
<rect x="31" y="615" width="1" height="18" fill="#c0c0c0"/>
<rect x="39" y="615" width="1" height="14" fill="#c0c0c0"/>
<rect x="47" y="615" width="1" height="8" fill="#c0c0c0"/>
<rect x="55" y="615" width="1" height="4" fill="#c0c0c0"/>
<rect x="63" y="615" width="1" height="2" fill="#c0c0c0"/>
<rect x="71" y="615" width="1" height="2" fill="#c0c0c0"/>
<rect x="87" y="615" width="1" height="2" fill="#c0c0c0"/>
<rect x="95" y="615" width="1" height="6" fill="#c0c0c0"/>
<rect x="103" y="615" width="1" height="8" fill="#c0c0c0"/>
<rect x="111" y="615" width="1" height="20" fill="#c0c0c0"/>
<rect x="119" y="615" width="1" height="25" fill="#c0c0c0"/>
<rect x="127" y="615" width="1" height="29" fill="#c0c0c0"/>
<rect x="135" y="615" width="1" height="30" fill="#c0c0c0"/>
<rect x="143" y="615" width="1" height="28" fill="#c0c0c0"/>
<rect x="151" y="615" width="1" height="23" fill="#c0c0c0"/>
<rect x="159" y="615" width="1" height="20" fill="#c0c0c0"/>
<rect x="167" y="615" width="1" height="17" fill="#c0c0c0"/>
<rect x="175" y="615" width="1" height="14" fill="#c0c0c0"/>
<rect x="183" y="615" width="1" height="10" fill="#c0c0c0"/>
<rect x="191" y="615" width="1" height="6" fill="#c0c0c0"/>
<rect x="199" y="611" width="1" height="5" fill="#c0c0c0"/>
<rect x="207" y="608" width="1" height="8" fill="#c0c0c0"/>
<rect x="215" y="612" width="1" height="4" fill="#c0c0c0"/>
<rect x="223" y="615" width="1" height="1" fill="#c0c0c0"/>
<rect x="231" y="615" width="1" height="1" fill="#c0c0c0"/>
<rect x="239" y="615" width="1" height="6" fill="#c0c0c0"/>
<rect x="247" y="615" width="1" height="11" fill="#c0c0c0"/>
<rect x="255" y="615" width="1" height="17" fill="#c0c0c0"/>
<rect x="263" y="615" width="1" height="22" fill="#c0c0c0"/>
<rect x="271" y="615" width="1" height="26" fill="#c0c0c0"/>
<rect x="279" y="615" width="1" height="30" fill="#c0c0c0"/>
<rect x="287" y="615" width="1" height="33" fill="#c0c0c0"/>
<rect x="295" y="615" width="1" height="31" fill="#c0c0c0"/>
<rect x="303" y="615" width="1" height="31" fill="#c0c0c0"/>
<rect x="311" y="615" width="1" height="31" fill="#c0c0c0"/>
<rect x="319" y="615" width="1" height="31" fill="#c0c0c0"/>
<rect x="327" y="615" width="1" height="28" fill="#c0c0c0"/>
<rect x="335" y="615" width="1" height="24" fill="#c0c0c0"/>
<rect x="343" y="615" width="1" height="19" fill="#c0c0c0"/>
<rect x="351" y="615" width="1" height="17" fill="#c0c0c0"/>
<rect x="359" y="615" width="1" height="12" fill="#c0c0c0"/>
<rect x="367" y="615" width="1" height="7" fill="#c0c0c0"/>
<rect x="375" y="615" width="1" height="4" fill="#c0c0c0"/>
<rect x="383" y="615" width="1" height="2" fill="#c0c0c0"/>
<rect x="399" y="615" width="1" height="4" fill="#c0c0c0"/>
<rect x="407" y="615" width="1" height="6" fill="#c0c0c0"/>
<rect x="415" y="615" width="1" height="6" fill="#c0c0c0"/>
<rect x="423" y="615" width="1" height="9" fill="#c0c0c0"/>
<rect x="431" y="615" width="1" height="17" fill="#c0c0c0"/>
<rect x="439" y="615" width="1" height="25" fill="#c0c0c0"/>
<rect x="447" y="615" width="1" height="29" fill="#c0c0c0"/>
<rect x="455" y="615" width="1" height="33" fill="#c0c0c0"/>
<rect x="463" y="615" width="1" height="32" fill="#c0c0c0"/>
<rect x="471" y="615" width="1" height="28" fill="#c0c0c0"/>
<rect x="479" y="615" width="1" height="27" fill="#c0c0c0"/>
<rect x="487" y="615" width="1" height="27" fill="#c0c0c0"/>
<rect x="495" y="615" width="1" height="26" fill="#c0c0c0"/>
<rect x="503" y="615" width="1" height="25" fill="#c0c0c0"/>
<rect x="511" y="615" width="1" height="23" fill="#c0c0c0"/>
<rect x="519" y="615" width="1" height="21" fill="#c0c0c0"/>
<rect x="527" y="615" width="1" height="20" fill="#c0c0c0"/>
<rect x="535" y="615" width="1" height="16" fill="#c0c0c0"/>
<rect x="543" y="615" width="1" height="12" fill="#c0c0c0"/>
<rect x="551" y="615" width="1" height="9" fill="#c0c0c0"/>
<rect x="559" y="615" width="1" height="6" fill="#c0c0c0"/>
<rect x="567" y="615" width="1" height="7" fill="#c0c0c0"/>
<rect x="575" y="615" width="1" height="7" fill="#c0c0c0"/>
<rect x="583" y="615" width="1" height="9" fill="#c0c0c0"/>
<rect x="591" y="615" width="1" height="13" fill="#c0c0c0"/>
<rect x="599" y="615" width="1" height="14" fill="#c0c0c0"/>
<rect x="607" y="615" width="1" height="15" fill="#c0c0c0"/>
<rect x="615" y="615" width="1" height="16" fill="#c0c0c0"/>
<rect x="623" y="615" width="1" height="18" fill="#c0c0c0"/>
<rect x="631" y="615" width="1" height="16" fill="#c0c0c0"/>
<rect x="639" y="615" width="1" height="13" fill="#c0c0c0"/>
<rect x="647" y="615" width="1" height="10" fill="#c0c0c0"/>
<rect x="655" y="615" width="1" height="9" fill="#c0c0c0"/>
<rect x="663" y="615" width="1" height="10" fill="#c0c0c0"/>
<rect x="671" y="615" width="1" height="13" fill="#c0c0c0"/>
<rect x="679" y="615" width="1" height="17" fill="#c0c0c0"/>
<rect x="687" y="615" width="1" height="15" fill="#c0c0c0"/>
<rect x="695" y="615" width="1" height="14" fill="#c0c0c0"/>
<rect x="703" y="615" width="1" height="7" fill="#c0c0c0"/>
<rect x="719" y="612" width="1" height="4" fill="#c0c0c0"/>
<rect x="727" y="606" width="1" height="10" fill="#c0c0c0"/>
<rect x="735" y="596" width="1" height="20" fill="#c0c0c0"/>
<rect x="743" y="590" width="1" height="26" fill="#c0c0c0"/>
<rect x="751" y="585" width="1" height="31" fill="#c0c0c0"/>
<rect x="759" y="581" width="1" height="35" fill="#c0c0c0"/>
<rect x="767" y="582" width="1" height="34" fill="#c0c0c0"/>
<rect x="775" y="584" width="1" height="32" fill="#c0c0c0"/>
<rect x="783" y="591" width="1" height="25" fill="#c0c0c0"/>
<rect x="791" y="597" width="1" height="19" fill="#c0c0c0"/>
<rect x="799" y="601" width="1" height="15" fill="#c0c0c0"/>
<rect x="807" y="607" width="1" height="9" fill="#c0c0c0"/>
<rect x="815" y="608" width="1" height="8" fill="#c0c0c0"/>
<rect x="823" y="604" width="1" height="12" fill="#c0c0c0"/>
<rect x="831" y="595" width="1" height="21" fill="#c0c0c0"/>
<rect x="839" y="586" width="1" height="30" fill="#c0c0c0"/>
<rect x="847" y="579" width="1" height="37" fill="#c0c0c0"/>
<rect x="855" y="576" width="1" height="40" fill="#c0c0c0"/>
<rect x="863" y="574" width="1" height="42" fill="#c0c0c0"/>
<rect x="871" y="573" width="1" height="43" fill="#c0c0c0"/>
<rect x="879" y="572" width="1" height="44" fill="#c0c0c0"/>
<rect x="887" y="573" width="1" height="43" fill="#c0c0c0"/>
<rect x="895" y="581" width="1" height="35" fill="#c0c0c0"/>
<rect x="903" y="587" width="1" height="29" fill="#c0c0c0"/>
<rect x="911" y="593" width="1" height="23" fill="#c0c0c0"/>
<rect x="919" y="597" width="1" height="19" fill="#c0c0c0"/>
<rect x="927" y="606" width="1" height="10" fill="#c0c0c0"/>
<rect x="935" y="613" width="1" height="3" fill="#c0c0c0"/>
<rect x="943" y="615" width="1" height="5" fill="#c0c0c0"/>
<rect x="951" y="615" width="1" height="11" fill="#c0c0c0"/>
<rect x="959" y="615" width="1" height="10" fill="#c0c0c0"/>
<rect x="967" y="615" width="1" height="11" fill="#c0c0c0"/>
<rect x="975" y="615" width="1" height="9" fill="#c0c0c0"/>
<rect x="983" y="615" width="1" height="8" fill="#c0c0c0"/>
<rect x="991" y="615" width="1" height="8" fill="#c0c0c0"/>
<rect x="999" y="615" width="1" height="12" fill="#c0c0c0"/>
<rect x="1007" y="615" width="1" height="14" fill="#c0c0c0"/>
<rect x="1015" y="615" width="1" height="12" fill="#c0c0c0"/>
<rect x="1023" y="615" width="1" height="14" fill="#c0c0c0"/>
<rect x="1031" y="615" width="1" height="15" fill="#c0c0c0"/>
<rect x="1039" y="615" width="1" height="18" fill="#c0c0c0"/>
<rect x="1047" y="615" width="1" height="24" fill="#c0c0c0"/>
<rect x="1055" y="615" width="1" height="29" fill="#c0c0c0"/>
<rect x="1063" y="615" width="1" height="32" fill="#c0c0c0"/>
<rect x="1071" y="615" width="1" height="36" fill="#c0c0c0"/>
<rect x="1079" y="615" width="1" height="39" fill="#c0c0c0"/>
<rect x="1087" y="615" width="1" height="39" fill="#c0c0c0"/>
<rect x="1095" y="615" width="1" height="38" fill="#c0c0c0"/>
<rect x="1103" y="615" width="1" height="43" fill="#c0c0c0"/>
<rect x="1111" y="615" width="1" height="47" fill="#c0c0c0"/>
<rect x="1119" y="615" width="1" height="48" fill="#c0c0c0"/>
<path d="M7,710.5 H1422 M7,761.5 H1422" stroke="#c0c0c0" stroke-width="1" stroke-dasharray="3,3" fill="none"/>
</g>
<path d="M7,645.5h3M13,644.5h3M19,643.5h2M25,642.5h2M31,641.5h2M38,638.5h2M43,637.5h2M49,635.5h2M55,633.5h2M62,630.5h2M67,628.5h3M73,626.5h3M79,625.5h2M86,622.5h2M91,621.5h3M97,621.5h2M103,620.5h3M109,620.5h3M115,621.5h2M121,623.5h2M127,625.5h2M134,628.5h2M139,630.5h3M145,632.5h2M151,634.5h2M157,636.5h3M163,637.5h3M169,637.5h3M175,637.5h3M181,636.5h3M187,635.5h2M193,633.5h2M200,630.5h2M205,627.5h2M211,624.5h3M217,622.5h2M223,620.5h2M229,618.5h3M235,617.5h3M241,617.5h3M247,617.5h3M253,617.5h3M259,618.5h2M266,621.5h2M272,624.5h2M278,627.5h2M284,630.5h2M289,632.5h2M295,634.5h2M302,637.5h2M307,639.5h3M313,641.5h3M319,642.5h2M325,644.5h3M331,644.5h3M337,644.5h2M343,643.5h3M349,642.5h3M355,640.5h3M361,638.5h3M367,637.5h2M374,634.5h2M380,631.5h2M385,629.5h2M391,627.5h2M398,624.5h2M403,623.5h2M409,622.5h2M415,621.5h3M421,620.5h3M427,621.5h3M433,622.5h3M439,623.5h2M445,625.5h3M452,628.5h2M457,630.5h2M463,632.5h2M470,635.5h2M475,636.5h2M481,638.5h2M487,640.5h2M493,642.5h3M499,643.5h3M505,643.5h2M511,642.5h3M517,641.5h3M523,640.5h3M529,639.5h3M535,638.5h2M541,636.5h3M547,635.5h2M553,633.5h3M559,632.5h2M565,630.5h3M571,629.5h2M577,627.5h3M583,626.5h3M589,625.5h3M595,625.5h3M601,625.5h3M607,625.5h3M613,625.5h3M619,626.5h3M625,626.5h2M631,627.5h3M637,628.5h3M643,628.5h3M649,628.5h3M655,628.5h3M661,628.5h3M667,628.5h3M673,628.5h3M679,628.5h3M685,628.5h3M691,627.5h3M697,627.5h2M703,626.5h3M709,625.5h3M715,624.5h3M721,623.5h3M728,621.5h2M734,618.5h2M740,615.5h2M752,608.5h2M757,605.5h2M770,596.5h2M775,594.5h2M782,591.5h2M787,590.5h3M793,590.5h2M799,589.5h3M805,590.5h3M811,591.5h2M817,593.5h3M823,594.5h2M829,596.5h3M835,596.5h3M841,596.5h3M847,596.5h2M853,594.5h3M859,593.5h2M866,590.5h2M871,588.5h2M878,585.5h2M884,582.5h2M889,580.5h2M895,578.5h3M901,577.5h3M907,578.5h3M913,579.5h3M920,581.5h2M926,584.5h2M932,587.5h2M949,598.5h2M968,611.5h2M974,614.5h2M979,616.5h3M985,618.5h2M991,620.5h2M998,623.5h2M1003,624.5h3M1009,624.5h2M1015,625.5h3M1021,625.5h3M1027,626.5h3M1033,626.5h2M1039,627.5h3M1045,628.5h3M1051,630.5h3M1057,632.5h3M1063,633.5h2M1070,636.5h2M1075,638.5h3M1081,640.5h2M1087,642.5h2M1093,644.5h3M1100,647.5h2M1105,649.5h2M1111,651.5h2M1117,653.5h2M21.5,642v1M27.5,641v1M33.5,640v1M37.5,639v1M45.5,636v1M51.5,634v1M57.5,632v1M61.5,631v1M81.5,624v1M85.5,623v1M99.5,620v1M117.5,622v1M123.5,624v1M129.5,626v1M133.5,627v1M147.5,633v1M153.5,635v1M189.5,634v1M195.5,632v1M199.5,631v1M207.5,626v1M219.5,621v1M225.5,619v1M261.5,619v1M265.5,620v1M271.5,623v1M277.5,626v1M283.5,629v1M291.5,633v1M297.5,635v1M301.5,636v1M321.5,643v1M339.5,643v1M369.5,636v1M373.5,635v1M379.5,632v1M387.5,628v1M393.5,626v1M397.5,625v1M405.5,622v1M411.5,621v1M441.5,624v1M451.5,627v1M459.5,631v1M465.5,633v1M469.5,634v1M477.5,637v1M483.5,639v1M489.5,641v1M507.5,642v1M537.5,637v1M549.5,634v1M561.5,631v1M573.5,628v1M627.5,627v1M699.5,626v1M727.5,622v1M733.5,619v1M739.5,616v1M745.5,613v1M746.5,612v1M747.5,611v1M751.5,609v1M759.5,604v1M763.5,601v1M764.5,600v1M765.5,599v1M769.5,597v1M777.5,593v1M781.5,592v1M795.5,589v1M813.5,592v1M825.5,595v1M849.5,595v1M861.5,592v1M865.5,591v1M873.5,587v1M877.5,586v1M883.5,583v1M891.5,579v1M919.5,580v1M925.5,583v1M931.5,586v1M937.5,589v1M938.5,590v1M939.5,591v1M943.5,593v1M944.5,594v1M945.5,595v1M951.5,599v1M955.5,602v1M956.5,603v1M957.5,604v1M961.5,606v1M962.5,607v1M963.5,608v1M967.5,610v1M973.5,613v1M987.5,619v1M993.5,621v1M997.5,622v1M1011.5,625v1M1035.5,627v1M1065.5,634v1M1069.5,635v1M1083.5,641v1M1089.5,643v1M1099.5,646v1M1107.5,650v1M1113.5,652v1" stroke="#ff0000" stroke-width="1" fill="none" shape-rendering="crispEdges"/>
<path d="M7,737.5h2M9,738.5h4M13,739.5h14M27,738.5h5M32,737.5h2M35,735.5h2M37,734.5h2M41,731.5h2M45,728.5h2M47,727.5h2M49,728.5h2M51,729.5h3M54,730.5h3M57,731.5h4M61,732.5h3M64,733.5h2M66,734.5h2M68,735.5h2M70,736.5h2M72,735.5h2M74,734.5h2M76,733.5h2M78,732.5h2M89,742.5h2M93,745.5h2M95,746.5h2M97,745.5h4M101,744.5h3M111,760.5h2M119,751.5h4M123,752.5h5M129,750.5h2M133,747.5h2M136,745.5h2M139,743.5h2M141,742.5h2M152,734.5h2M154,735.5h2M156,736.5h2M158,737.5h3M161,736.5h4M165,735.5h12M177,734.5h2M179,733.5h3M182,732.5h3M185,731.5h2M187,730.5h3M190,729.5h2M215,741.5h4M219,740.5h6M225,739.5h2M227,738.5h3M230,737.5h2M233,739.5h2M237,742.5h2M239,743.5h2M241,744.5h2M243,745.5h3M246,746.5h3M249,747.5h4M253,748.5h4M257,749.5h4M261,750.5h4M265,749.5h4M269,748.5h4M273,749.5h2M275,750.5h3M278,751.5h10M296,743.5h2M298,744.5h2M300,745.5h2M302,746.5h18M327,738.5h2M329,737.5h4M333,736.5h4M337,735.5h4M341,734.5h4M345,735.5h2M347,736.5h3M350,737.5h2M355,733.5h2M359,730.5h2M361,729.5h4M365,728.5h11M376,729.5h2M378,730.5h2M380,731.5h2M382,732.5h3M385,731.5h4M389,730.5h3M400,744.5h2M402,743.5h2M404,742.5h2M406,741.5h3M409,740.5h2M411,739.5h3M414,738.5h2M419,742.5h2M431,755.5h2M433,756.5h4M437,757.5h3M440,756.5h2M443,754.5h2M445,753.5h2M447,752.5h4M451,753.5h5M465,742.5h2M469,739.5h2M471,738.5h2M473,739.5h2M475,740.5h3M478,741.5h2M480,742.5h2M483,744.5h2M485,745.5h2M488,745.5h2M491,743.5h2M493,742.5h2M495,741.5h2M497,742.5h4M501,743.5h3M504,742.5h2M506,741.5h2M508,740.5h2M510,739.5h3M513,740.5h4M517,741.5h4M521,740.5h4M525,739.5h3M528,738.5h2M530,737.5h2M532,736.5h2M534,735.5h3M537,734.5h2M539,733.5h3M542,732.5h5M547,731.5h8M555,732.5h5M563,736.5h2M567,739.5h4M571,738.5h5M583,746.5h2M585,747.5h2M587,748.5h3M590,749.5h3M593,748.5h4M597,747.5h6M603,746.5h8M611,747.5h6M617,748.5h4M621,749.5h3M635,735.5h2M639,732.5h4M643,733.5h6M649,734.5h2M651,735.5h3M654,736.5h2M659,740.5h2M671,751.5h4M675,752.5h5M687,739.5h4M691,738.5h5M703,722.5h4M707,721.5h5M715,725.5h2M736,712.5h2M739,714.5h2M741,715.5h2M743,716.5h10M753,715.5h4M757,714.5h3M767,724.5h2M769,725.5h2M771,726.5h3M774,727.5h2M783,741.5h2M785,740.5h4M789,739.5h6M795,738.5h5M800,739.5h2M802,740.5h2M804,741.5h2M806,742.5h2M811,738.5h2M831,716.5h2M833,715.5h4M837,714.5h6M843,713.5h5M851,717.5h2M855,720.5h4M859,719.5h16M875,718.5h5M880,719.5h2M883,721.5h2M885,722.5h2M895,737.5h4M899,736.5h8M907,737.5h13M927,748.5h4M931,747.5h6M937,748.5h4M941,749.5h4M945,750.5h4M949,751.5h3M959,738.5h2M961,739.5h4M965,740.5h3M968,739.5h2M971,737.5h2M973,736.5h2M975,735.5h4M979,736.5h6M985,737.5h4M989,738.5h3M1000,746.5h2M1002,745.5h2M1004,744.5h2M1006,743.5h2M1011,739.5h2M1019,740.5h2M1023,743.5h4M1027,744.5h6M1033,745.5h4M1037,746.5h3M1047,754.5h4M1051,755.5h8M1059,754.5h6M1065,755.5h2M1067,756.5h3M1070,757.5h5M1075,756.5h5M1080,755.5h2M1082,754.5h2M1084,753.5h2M1086,752.5h2M1088,751.5h2M1090,750.5h2M1092,749.5h2M1094,748.5h2M1103,761.5h2M1105,760.5h2M1107,759.5h3M1110,758.5h3M1113,757.5h4M1117,756.5h2M34.5,736v1M39.5,733v1M40.5,732v1M43.5,730v1M44.5,729v1M80.5,733v1M81.5,734v1M82.5,735v1M83.5,736v1M84.5,737v1M85.5,738v1M86.5,739v1M87.5,740v1M88.5,741v1M91.5,743v1M92.5,744v1M103.5,745v1M104.5,746v2M105.5,748v2M106.5,750v2M107.5,752v2M108.5,754v2M109.5,756v2M110.5,758v2M111.5,761v1M113.5,758v2M114.5,757v1M115.5,756v1M116.5,755v1M117.5,753v2M118.5,752v1M128.5,751v1M131.5,749v1M132.5,748v1M135.5,746v1M138.5,744v1M143.5,741v1M144.5,740v1M145.5,739v1M146.5,738v1M147.5,737v1M148.5,736v1M149.5,735v1M150.5,734v1M151.5,733v1M192.5,727v2M193.5,726v1M194.5,725v1M195.5,723v2M196.5,722v1M197.5,721v1M198.5,719v2M199.5,718v1M200.5,719v2M201.5,721v1M202.5,722v1M203.5,723v2M204.5,725v1M205.5,726v1M206.5,727v2M207.5,729v1M208.5,730v2M209.5,732v1M210.5,733v2M211.5,735v1M212.5,736v2M213.5,738v1M214.5,739v2M232.5,738v1M235.5,740v1M236.5,741v1M288.5,750v1M289.5,749v1M290.5,748v1M291.5,746v2M292.5,745v1M293.5,744v1M294.5,743v1M295.5,742v1M320.5,745v1M321.5,744v1M322.5,743v1M323.5,742v1M324.5,741v1M325.5,740v1M326.5,739v1M352.5,736v1M353.5,735v1M354.5,734v1M357.5,732v1M358.5,731v1M392.5,731v2M393.5,733v2M394.5,735v2M395.5,737v2M396.5,739v2M397.5,741v2M398.5,743v2M399.5,745v1M416.5,739v1M417.5,740v1M418.5,741v1M421.5,743v1M422.5,744v1M423.5,745v1M424.5,746v1M425.5,747v2M426.5,749v1M427.5,750v1M428.5,751v1M429.5,752v2M430.5,754v1M442.5,755v1M456.5,752v1M457.5,751v1M458.5,750v1M459.5,748v2M460.5,747v1M461.5,746v1M462.5,745v1M463.5,744v1M464.5,743v1M467.5,741v1M468.5,740v1M482.5,743v1M487.5,746v1M490.5,744v1M560.5,733v1M561.5,734v1M562.5,735v1M565.5,737v1M566.5,738v1M576.5,739v1M577.5,740v1M578.5,741v1M579.5,742v1M580.5,743v1M581.5,744v1M582.5,745v1M624.5,748v1M625.5,746v2M626.5,745v1M627.5,744v1M628.5,743v1M629.5,741v2M630.5,740v1M631.5,739v1M632.5,738v1M633.5,737v1M634.5,736v1M637.5,734v1M638.5,733v1M656.5,737v1M657.5,738v1M658.5,739v1M661.5,741v1M662.5,742v1M663.5,743v1M664.5,744v1M665.5,745v1M666.5,746v1M667.5,747v1M668.5,748v1M669.5,749v1M670.5,750v1M680.5,750v2M681.5,748v2M682.5,747v1M683.5,745v2M684.5,744v1M685.5,742v2M686.5,740v2M696.5,736v2M697.5,734v2M698.5,732v2M699.5,730v2M700.5,728v2M701.5,726v2M702.5,724v2M703.5,723v1M712.5,722v1M713.5,723v1M714.5,724v1M717.5,726v1M718.5,727v1M719.5,728v1M720.5,727v1M721.5,726v1M722.5,725v1M723.5,723v2M724.5,722v1M725.5,721v1M726.5,720v1M727.5,719v1M728.5,718v1M729.5,717v1M730.5,716v1M731.5,715v1M732.5,714v1M733.5,713v1M734.5,712v1M735.5,711v1M738.5,713v1M760.5,715v1M761.5,716v2M762.5,718v1M763.5,719v1M764.5,720v1M765.5,721v2M766.5,723v1M776.5,728v2M777.5,730v2M778.5,732v2M779.5,734v1M780.5,735v2M781.5,737v2M782.5,739v2M808.5,741v1M809.5,740v1M810.5,739v1M813.5,737v1M814.5,736v1M815.5,735v1M816.5,734v1M817.5,732v2M818.5,731v1M819.5,730v1M820.5,729v1M821.5,727v2M822.5,726v1M823.5,725v1M824.5,724v1M825.5,723v1M826.5,722v1M827.5,720v2M828.5,719v1M829.5,718v1M830.5,717v1M848.5,714v1M849.5,715v1M850.5,716v1M853.5,718v1M854.5,719v1M882.5,720v1M887.5,723v1M888.5,724v2M889.5,726v2M890.5,728v2M891.5,730v1M892.5,731v2M893.5,733v2M894.5,735v2M920.5,738v2M921.5,740v1M922.5,741v1M923.5,742v2M924.5,744v1M925.5,745v1M926.5,746v2M952.5,749v2M953.5,747v2M954.5,746v1M955.5,744v2M956.5,743v1M957.5,741v2M958.5,739v2M970.5,738v1M992.5,739v1M993.5,740v1M994.5,741v1M995.5,742v2M996.5,744v1M997.5,745v1M998.5,746v1M999.5,747v1M1008.5,742v1M1009.5,741v1M1010.5,740v1M1013.5,738v1M1014.5,737v1M1015.5,736v1M1016.5,737v1M1017.5,738v1M1018.5,739v1M1021.5,741v1M1022.5,742v1M1040.5,747v1M1041.5,748v1M1042.5,749v1M1043.5,750v1M1044.5,751v1M1045.5,752v1M1046.5,753v1M1096.5,749v2M1097.5,751v2M1098.5,753v1M1099.5,754v2M1100.5,756v1M1101.5,757v2M1102.5,759v2" stroke="#1e90ff" stroke-width="1" fill="none" shape-rendering="crispEdges"/>
<rect x="1423" y="32" width="2" height="1" fill="#000"/>
<text x="1428.5" y="36" font-size="9.8" fill="#000" textLength="32.5" lengthAdjust="spacingAndGlyphs">1.14635</text>
<rect x="1423" y="65" width="2" height="1" fill="#000"/>
<text x="1428.5" y="69" font-size="9.8" fill="#000" textLength="32.5" lengthAdjust="spacingAndGlyphs">1.14355</text>
<rect x="1423" y="98" width="2" height="1" fill="#000"/>
<text x="1428.5" y="102" font-size="9.8" fill="#000" textLength="32.5" lengthAdjust="spacingAndGlyphs">1.14075</text>
<rect x="1423" y="131" width="2" height="1" fill="#000"/>
<text x="1428.5" y="135" font-size="9.8" fill="#000" textLength="32.5" lengthAdjust="spacingAndGlyphs">1.13795</text>
<rect x="1423" y="164" width="2" height="1" fill="#000"/>
<text x="1428.5" y="168" font-size="9.8" fill="#000" textLength="32.5" lengthAdjust="spacingAndGlyphs">1.13515</text>
<rect x="1423" y="197" width="2" height="1" fill="#000"/>
<text x="1428.5" y="201" font-size="9.8" fill="#000" textLength="32.5" lengthAdjust="spacingAndGlyphs">1.13240</text>
<rect x="1423" y="230" width="2" height="1" fill="#000"/>
<text x="1428.5" y="234" font-size="9.8" fill="#000" textLength="32.5" lengthAdjust="spacingAndGlyphs">1.12960</text>
<rect x="1423" y="263" width="2" height="1" fill="#000"/>
<text x="1428.5" y="267" font-size="9.8" fill="#000" textLength="32.5" lengthAdjust="spacingAndGlyphs">1.12680</text>
<rect x="1423" y="296" width="2" height="1" fill="#000"/>
<text x="1428.5" y="300" font-size="9.8" fill="#000" textLength="32.5" lengthAdjust="spacingAndGlyphs">1.12400</text>
<rect x="1423" y="329" width="2" height="1" fill="#000"/>
<text x="1428.5" y="333" font-size="9.8" fill="#000" textLength="32.5" lengthAdjust="spacingAndGlyphs">1.12120</text>
<rect x="1423" y="362" width="2" height="1" fill="#000"/>
<text x="1428.5" y="366" font-size="9.8" fill="#000" textLength="32.5" lengthAdjust="spacingAndGlyphs">1.11845</text>
<rect x="1423" y="395" width="2" height="1" fill="#000"/>
<text x="1428.5" y="399" font-size="9.8" fill="#000" textLength="32.5" lengthAdjust="spacingAndGlyphs">1.11565</text>
<rect x="1423" y="428" width="2" height="1" fill="#000"/>
<text x="1428.5" y="432" font-size="9.8" fill="#000" textLength="32.5" lengthAdjust="spacingAndGlyphs">1.11285</text>
<rect x="1423" y="494" width="2" height="1" fill="#000"/>
<text x="1428.5" y="498" font-size="9.8" fill="#000" textLength="32.5" lengthAdjust="spacingAndGlyphs">1.10725</text>
<rect x="1423" y="527" width="2" height="1" fill="#000"/>
<text x="1428.5" y="531" font-size="9.8" fill="#000" textLength="32.5" lengthAdjust="spacingAndGlyphs">1.10450</text>
<rect x="1423" y="560" width="2" height="1" fill="#000"/>
<text x="1428.5" y="564" font-size="9.8" fill="#000" textLength="32.5" lengthAdjust="spacingAndGlyphs">1.10170</text>
<rect x="1424" y="100" width="41" height="11" fill="#ff0000"/>
<text x="1428.5" y="109" font-size="9.8" fill="#fff" textLength="32.5" lengthAdjust="spacingAndGlyphs">1.14009</text>
<rect x="1424" y="237" width="41" height="11" fill="#ff0000"/>
<text x="1428.5" y="246" font-size="9.8" fill="#fff" textLength="32.5" lengthAdjust="spacingAndGlyphs">1.12851</text>
<rect x="1424" y="349" width="41" height="11" fill="#ff0000"/>
<text x="1428.5" y="358" font-size="9.8" fill="#fff" textLength="32.5" lengthAdjust="spacingAndGlyphs">1.11901</text>
<rect x="1424" y="456" width="41" height="11" fill="#00ff00"/>
<text x="1428.5" y="465" font-size="9.8" fill="#fff" textLength="32.5" lengthAdjust="spacingAndGlyphs">1.11000</text>
<rect x="1424" y="472" width="41" height="11" fill="#000000"/>
<text x="1428.5" y="481" font-size="9.8" fill="#fff" textLength="32.5" lengthAdjust="spacingAndGlyphs">1.10871</text>
<rect x="1424" y="551" width="41" height="11" fill="#0000ff"/>
<text x="1428.5" y="560" font-size="9.8" fill="#fff" textLength="32.5" lengthAdjust="spacingAndGlyphs">1.10201</text>
<text x="1426.5" y="576" font-size="9.8" fill="#000" textLength="37" lengthAdjust="spacingAndGlyphs">0.004524</text>
<text x="1426.5" y="619" font-size="9.8" fill="#000" textLength="17" lengthAdjust="spacingAndGlyphs">0.00</text>
<text x="1426.5" y="665" font-size="9.8" fill="#000" textLength="37" lengthAdjust="spacingAndGlyphs">-0.00494</text>
<rect x="1423" y="615" width="2" height="1" fill="#000"/>
<text x="1426.5" y="681" font-size="9.8" fill="#000" textLength="14" lengthAdjust="spacingAndGlyphs">100</text>
<text x="1426.5" y="714" font-size="9.8" fill="#000" textLength="9.5" lengthAdjust="spacingAndGlyphs">70</text>
<text x="1426.5" y="765" font-size="9.8" fill="#000" textLength="9.5" lengthAdjust="spacingAndGlyphs">30</text>
<text x="1426.5" y="797" font-size="9.8" fill="#000" textLength="5" lengthAdjust="spacingAndGlyphs">0</text>
<rect x="1423" y="710" width="2" height="1" fill="#000"/>
<rect x="1423" y="761" width="2" height="1" fill="#000"/>
<polygon points="10,36 17,36 13.5,31.5" fill="#000"/>
<text x="22" y="35.5" font-size="9.8" fill="#000" textLength="66.5" lengthAdjust="spacingAndGlyphs">EURUSD-,Daily</text>
<text x="95" y="35.5" font-size="9.8" fill="#000" textLength="140.5" lengthAdjust="spacingAndGlyphs">1.10780 1.10956 1.10777 1.10871</text>
<text x="11" y="578" font-size="9.8" fill="#000" textLength="154" lengthAdjust="spacingAndGlyphs">MACD(12,26,9) -0.004509 -0.003653</text>
<text x="11" y="683" font-size="9.8" fill="#000" textLength="68" lengthAdjust="spacingAndGlyphs">RSI(14) 33.2794</text>
<rect x="7" y="801" width="1" height="3" fill="#000"/>
<text x="6" y="813" font-size="9.8" fill="#000" textLength="52.0" lengthAdjust="spacingAndGlyphs">20 Feb 2019</text>
<rect x="71" y="801" width="1" height="3" fill="#000"/>
<text x="70" y="813" font-size="9.8" fill="#000" textLength="46.6" lengthAdjust="spacingAndGlyphs">1 Mar 2019</text>
<rect x="135" y="801" width="1" height="3" fill="#000"/>
<text x="134" y="813" font-size="9.8" fill="#000" textLength="51.0" lengthAdjust="spacingAndGlyphs">11 Mar 2019</text>
<rect x="199" y="801" width="1" height="3" fill="#000"/>
<text x="198" y="813" font-size="9.8" fill="#000" textLength="51.7" lengthAdjust="spacingAndGlyphs">20 Mar 2019</text>
<rect x="263" y="801" width="1" height="3" fill="#000"/>
<text x="262" y="813" font-size="9.8" fill="#000" textLength="51.7" lengthAdjust="spacingAndGlyphs">29 Mar 2019</text>
<rect x="327" y="801" width="1" height="3" fill="#000"/>
<text x="326" y="813" font-size="9.8" fill="#000" textLength="45.4" lengthAdjust="spacingAndGlyphs">8 Apr 2019</text>
<rect x="391" y="801" width="1" height="3" fill="#000"/>
<text x="390" y="813" font-size="9.8" fill="#000" textLength="50.6" lengthAdjust="spacingAndGlyphs">17 Apr 2019</text>
<rect x="455" y="801" width="1" height="3" fill="#000"/>
<text x="454" y="813" font-size="9.8" fill="#000" textLength="50.6" lengthAdjust="spacingAndGlyphs">28 Apr 2019</text>
<rect x="519" y="801" width="1" height="3" fill="#000"/>
<text x="518" y="813" font-size="9.8" fill="#000" textLength="49.3" lengthAdjust="spacingAndGlyphs">7 May 2019</text>
<rect x="583" y="801" width="1" height="3" fill="#000"/>
<text x="582" y="813" font-size="9.8" fill="#000" textLength="54.6" lengthAdjust="spacingAndGlyphs">16 May 2019</text>
<rect x="647" y="801" width="1" height="3" fill="#000"/>
<text x="646" y="813" font-size="9.8" fill="#000" textLength="54.6" lengthAdjust="spacingAndGlyphs">26 May 2019</text>
<rect x="711" y="801" width="1" height="3" fill="#000"/>
<text x="710" y="813" font-size="9.8" fill="#000" textLength="44.6" lengthAdjust="spacingAndGlyphs">4 Jun 2019</text>
<rect x="775" y="801" width="1" height="3" fill="#000"/>
<text x="774" y="813" font-size="9.8" fill="#000" textLength="49.6" lengthAdjust="spacingAndGlyphs">13 Jun 2019</text>
<rect x="839" y="801" width="1" height="3" fill="#000"/>
<text x="838" y="813" font-size="9.8" fill="#000" textLength="49.6" lengthAdjust="spacingAndGlyphs">23 Jun 2019</text>
<rect x="903" y="801" width="1" height="3" fill="#000"/>
<text x="902" y="813" font-size="9.8" fill="#000" textLength="41.8" lengthAdjust="spacingAndGlyphs">2 Jul 2019</text>
<rect x="967" y="801" width="1" height="3" fill="#000"/>
<text x="966" y="813" font-size="9.8" fill="#000" textLength="46.2" lengthAdjust="spacingAndGlyphs">11 Jul 2019</text>
<rect x="1031" y="801" width="1" height="3" fill="#000"/>
<text x="1030" y="813" font-size="9.8" fill="#000" textLength="46.9" lengthAdjust="spacingAndGlyphs">21 Jul 2019</text>
<rect x="1095" y="801" width="1" height="3" fill="#000"/>
<text x="1094" y="813" font-size="9.8" fill="#000" textLength="46.9" lengthAdjust="spacingAndGlyphs">30 Jul 2019</text>
<defs>
<linearGradient id="gr" x1="0" y1="0" x2="0" y2="1"><stop offset="0" stop-color="#fb5050"/><stop offset="0.38" stop-color="#e03030"/><stop offset="1" stop-color="#b00505"/></linearGradient>
<linearGradient id="gb" x1="0" y1="0" x2="0" y2="1"><stop offset="0" stop-color="#f4f4f4"/><stop offset="0.45" stop-color="#e6e6e6"/><stop offset="0.5" stop-color="#d4d4d4"/><stop offset="1" stop-color="#dcdcdc"/></linearGradient>
</defs>
<rect x="8" y="42" width="223" height="68" fill="#ffffff"/>
<path d="M10.5,44.5 H61.5 V68.5 H118.5 V107.5 H10.5 Z" fill="url(#gr)" stroke="#c81414" stroke-width="1"/>
<path d="M177.5,44.5 H228.5 V107.5 H121.5 V68.5 H177.5 Z" fill="url(#gr)" stroke="#c81414" stroke-width="1"/>
<rect x="14" y="67" width="44" height="1" fill="#8c0a0a"/>
<rect x="14" y="68" width="44" height="1" fill="#f06060"/>
<rect x="181" y="67" width="44" height="1" fill="#8c0a0a"/>
<rect x="181" y="68" width="44" height="1" fill="#f06060"/>
<text x="22" y="59.8" font-size="12" fill="#fff" textLength="26" lengthAdjust="spacingAndGlyphs">SELL</text>
<text x="190.4" y="59.8" font-size="12" fill="#fff" textLength="23.2" lengthAdjust="spacingAndGlyphs">BUY</text>
<rect x="64.5" y="44.5" width="110" height="21" fill="#ffffff" stroke="#abadb3" stroke-width="1"/>
<rect x="66" y="46" width="19" height="18" fill="url(#gb)" stroke="#c0c0c0" stroke-width="0.5"/>
<rect x="154" y="46" width="19" height="18" fill="url(#gb)" stroke="#c0c0c0" stroke-width="0.5"/>
<rect x="85.5" y="45" width="1" height="20" fill="#abadb3"/>
<rect x="153" y="45" width="1" height="20" fill="#abadb3"/>
<polygon points="72,53 77,53 74.5,56" fill="#4a5cc0"/>
<polygon points="161,56 166,56 163.5,53" fill="#4a5cc0"/>
<text x="126.4" y="59.2" font-size="12.5" fill="#000" textLength="23" lengthAdjust="spacingAndGlyphs">1.00</text>
<text x="30.2" y="99" font-size="12.5" fill="#fff" textLength="23.6" lengthAdjust="spacingAndGlyphs" font-weight="bold">1.10</text>
<text x="57.5" y="99.3" font-size="34" fill="#fff" textLength="34" lengthAdjust="spacingAndGlyphs">87</text>
<text x="97.3" y="83" font-size="12" fill="#fff" font-weight="bold">1</text>
<text x="140.2" y="99" font-size="12.5" fill="#fff" textLength="23.6" lengthAdjust="spacingAndGlyphs" font-weight="bold">1.10</text>
<text x="168.3" y="99.3" font-size="34" fill="#fff" textLength="35" lengthAdjust="spacingAndGlyphs">88</text>
<text x="207.8" y="83" font-size="12" fill="#fff" font-weight="bold">9</text>
<rect x="4" y="821" width="1461" height="1" fill="#e4e4e4"/>
<rect x="0" y="822" width="1465" height="1" fill="#f0f0f0"/>
<rect x="0" y="823" width="1465" height="21" fill="#f0f0f0"/>
<rect x="2" y="823" width="7" height="1" fill="#000"/>
<rect x="115" y="823" width="1350" height="1" fill="#000"/>
<rect x="2" y="824" width="1" height="18" fill="#a0a0a0"/>
<rect x="3" y="824" width="1" height="18" fill="#696969"/>
<rect x="0" y="842" width="4" height="1" fill="#a0a0a0"/>
<rect x="9" y="823" width="106" height="18" fill="#ffffff"/>
<rect x="8" y="823" width="1" height="19" fill="#000"/>
<rect x="115" y="823" width="1" height="19" fill="#000"/>
<rect x="8" y="841" width="108" height="1" fill="#000"/>
<text x="19.8" y="837.7" font-size="12" fill="#000" textLength="84" lengthAdjust="spacingAndGlyphs">EURUSD-,Daily</text>
<text x="126.4" y="837.7" font-size="12" fill="#6a6a6a" textLength="86.3" lengthAdjust="spacingAndGlyphs">AUDUSD-,Daily</text>
<text x="235.8" y="837.7" font-size="12" fill="#6a6a6a" textLength="83.6" lengthAdjust="spacingAndGlyphs">USDCHF-,Daily</text>
<text x="343.8" y="837.7" font-size="12" fill="#6a6a6a" textLength="85.2" lengthAdjust="spacingAndGlyphs">USDCAD-,Daily</text>
<text x="452" y="837.7" font-size="12" fill="#6a6a6a" textLength="88" lengthAdjust="spacingAndGlyphs">USDCNH-,Daily</text>
<text x="563" y="837.7" font-size="12" fill="#6a6a6a" textLength="97" lengthAdjust="spacingAndGlyphs">EURCHF-,Weekly</text>
<text x="684" y="837.7" font-size="12" fill="#6a6a6a" textLength="100.3" lengthAdjust="spacingAndGlyphs">XAUUSD-,Weekly</text>
<text x="807" y="837.7" font-size="12" fill="#6a6a6a" textLength="72.6" lengthAdjust="spacingAndGlyphs">GBPUSD-,H1</text>
<text x="903" y="837.7" font-size="12" fill="#6a6a6a" textLength="57" lengthAdjust="spacingAndGlyphs">UKOil-,H1</text>
<text x="982.4" y="837.7" font-size="12" fill="#6a6a6a" textLength="82.2" lengthAdjust="spacingAndGlyphs">USDX-,Weekly</text>
<rect x="224" y="827" width="1" height="13" fill="#6a6a6a"/>
<rect x="332" y="827" width="1" height="13" fill="#6a6a6a"/>
<rect x="440" y="827" width="1" height="13" fill="#6a6a6a"/>
<rect x="552" y="827" width="1" height="13" fill="#6a6a6a"/>
<rect x="672" y="827" width="1" height="13" fill="#6a6a6a"/>
<rect x="796" y="827" width="1" height="13" fill="#6a6a6a"/>
<rect x="892" y="827" width="1" height="13" fill="#6a6a6a"/>
<rect x="973" y="827" width="1" height="13" fill="#6a6a6a"/>
<rect x="1076" y="827" width="1" height="13" fill="#6a6a6a"/>
<polygon points="1441,828 1441,836 1437,832" fill="#808080"/>
<polygon points="1456,828 1456,836 1460,832" fill="#808080"/></svg></body></html>
